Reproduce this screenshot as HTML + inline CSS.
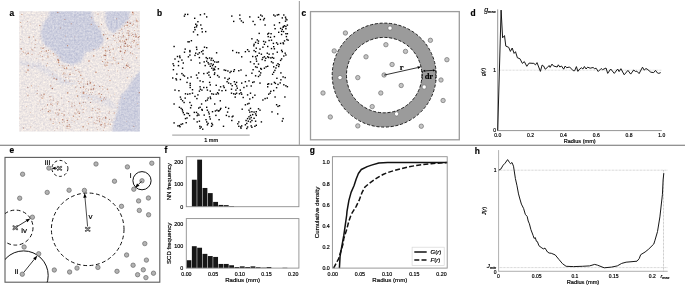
<!DOCTYPE html>
<html><head><meta charset="utf-8"><title>Figure</title>
<style>
html,body{margin:0;padding:0;background:#fff;}
body{width:685px;height:285px;overflow:hidden;}
svg{display:block;font-family:"Liberation Sans",sans-serif;}
text{stroke:#000;stroke-width:0.18px;}
</style></head><body>
<svg width="685" height="285" viewBox="0 0 685 285">
<rect width="685" height="285" fill="#fff"/>
<line x1="0" y1="145.3" x2="685" y2="145.3" stroke="#6e6e6e" stroke-width="1.1"/>
<line x1="299.4" y1="1" x2="299.4" y2="145.3" stroke="#a8a8a8" stroke-width="1.2"/>
<text x="9.5" y="16.2" font-size="8.4" text-anchor="start" font-weight="bold" font-style="normal" fill="#000">a</text>
<text x="157" y="16.2" font-size="8.4" text-anchor="start" font-weight="bold" font-style="normal" fill="#000">b</text>
<text x="301.6" y="16.2" font-size="8.4" text-anchor="start" font-weight="bold" font-style="normal" fill="#000">c</text>
<text x="470.6" y="16.2" font-size="8.4" text-anchor="start" font-weight="bold" font-style="normal" fill="#000">d</text>
<text x="9.6" y="153.2" font-size="8.4" text-anchor="start" font-weight="bold" font-style="normal" fill="#000">e</text>
<text x="164.6" y="153.2" font-size="8.4" text-anchor="start" font-weight="bold" font-style="normal" fill="#000">f</text>
<text x="309.8" y="153.2" font-size="8.4" text-anchor="start" font-weight="bold" font-style="normal" fill="#000">g</text>
<text x="474.8" y="153.6" font-size="8.4" text-anchor="start" font-weight="bold" font-style="normal" fill="#000">h</text>
<defs><clipPath id="ca"><rect x="19.2" y="11.2" width="120.7" height="120.3"/></clipPath><filter id="bl" x="-20%" y="-20%" width="140%" height="140%"><feGaussianBlur stdDeviation="1.3"/></filter><filter id="bl2" x="-20%" y="-20%" width="140%" height="140%"><feGaussianBlur stdDeviation="0.35"/></filter><filter id="grain" x="0" y="0" width="100%" height="100%" color-interpolation-filters="sRGB"><feTurbulence type="fractalNoise" baseFrequency="0.55" numOctaves="2" seed="11" result="n"/><feColorMatrix in="n" type="matrix" values="0.22 0 0 0 0.02  0.20 0 0 0 0.03  0.12 0 0 0 0.07  0 0 0 0 1" result="n2"/><feComposite in="SourceGraphic" in2="n2" operator="arithmetic" k1="0" k2="1" k3="1" k4="-0.13"/></filter></defs>
<g clip-path="url(#ca)"><g filter="url(#grain)">
<rect x="17.2" y="9.2" width="124.7" height="124.3" fill="#ede6e4"/>
<g filter="url(#bl)" fill="#cccede">
<polygon points="50.1,8.0 90.9,8.0 93.7,21.3 100.4,28.9 104.2,40.3 98.5,48.8 85.2,52.6 81.4,62.1 71.9,64.9 62.4,62.1 53.9,51.6 43.5,44.1 40.6,34.6 43.5,22.2 48.2,17.5"/>
<polygon points="106.1,8.0 130.7,8.0 128.9,19.4 121.3,27.0 113.7,33.6 108.0,28.9 105.1,19.4"/>
<polygon points="145.0,68.0 139.9,71.1 132.6,79.7 127.0,89.2 121.3,94.8 118.4,104.3 118.4,107.8 113.7,121.0 111.8,135.0 145.0,135.0"/>
</g>
<g filter="url(#bl)" fill="#dcdae2" opacity="0.7">
<polygon points="19.0,60.0 40.0,63.0 62.0,78.0 80.0,84.0 62.0,85.0 40.0,70.0 19.0,65.0"/>
<polygon points="80.0,93.0 110.0,99.0 118.0,110.0 100.0,103.0 80.0,97.0"/>
</g>
<g filter="url(#bl2)" opacity="0.72"><circle cx="26.2" cy="72.2" r="0.6" fill="#b8785c"/><circle cx="67.1" cy="128.6" r="0.4" fill="#9a4a30"/><circle cx="86.8" cy="93.2" r="0.4" fill="#9a4a30"/><circle cx="70.1" cy="126.9" r="0.5" fill="#9a4a30"/><circle cx="76.4" cy="91.1" r="0.5" fill="#c08a70"/><circle cx="105.7" cy="117.9" r="0.8" fill="#9a4a30"/><circle cx="39.5" cy="25.3" r="0.5" fill="#b06a4c"/><circle cx="101.6" cy="57.0" r="0.35" fill="#b06a4c"/><circle cx="37.5" cy="90.4" r="0.4" fill="#9a4a30"/><circle cx="134.1" cy="54.7" r="0.3" fill="#a8603f"/><circle cx="136.8" cy="20.9" r="0.8" fill="#b06a4c"/><circle cx="79.7" cy="103.1" r="0.6" fill="#b06a4c"/><circle cx="99.2" cy="109.3" r="0.4" fill="#a8603f"/><circle cx="44.9" cy="47.6" r="0.4" fill="#c08a70"/><circle cx="65.6" cy="73.4" r="0.35" fill="#a4553a"/><circle cx="31.8" cy="43.1" r="0.4" fill="#9a4a30"/><circle cx="100.8" cy="125.0" r="0.8" fill="#c08a70"/><circle cx="136.2" cy="42.7" r="0.5" fill="#c08a70"/><circle cx="56.0" cy="102.6" r="0.4" fill="#9a4a30"/><circle cx="78.9" cy="111.6" r="0.5" fill="#c08a70"/><circle cx="91.5" cy="94.5" r="0.4" fill="#b06a4c"/><circle cx="41.3" cy="51.5" r="0.5" fill="#a8603f"/><circle cx="105.0" cy="126.2" r="0.35" fill="#a4553a"/><circle cx="64.7" cy="65.5" r="0.3" fill="#c08a70"/><circle cx="127.6" cy="22.3" r="0.8" fill="#9a4a30"/><circle cx="74.8" cy="112.9" r="0.5" fill="#a4553a"/><circle cx="93.7" cy="88.5" r="0.4" fill="#9a4a30"/><circle cx="49.9" cy="100.6" r="0.4" fill="#a4553a"/><circle cx="79.3" cy="116.6" r="0.4" fill="#a4553a"/><circle cx="107.0" cy="61.3" r="0.35" fill="#9a4a30"/><circle cx="128.0" cy="46.1" r="0.6" fill="#b8785c"/><circle cx="132.1" cy="41.2" r="0.5" fill="#b06a4c"/><circle cx="72.0" cy="103.1" r="0.5" fill="#a8603f"/><circle cx="133.1" cy="34.3" r="0.3" fill="#a4553a"/><circle cx="57.4" cy="112.2" r="0.4" fill="#a8603f"/><circle cx="99.7" cy="122.5" r="0.3" fill="#c08a70"/><circle cx="56.8" cy="109.8" r="0.4" fill="#9a4a30"/><circle cx="36.9" cy="58.5" r="0.4" fill="#b8785c"/><circle cx="118.4" cy="63.2" r="0.8" fill="#b06a4c"/><circle cx="64.2" cy="121.8" r="0.5" fill="#c08a70"/><circle cx="117.2" cy="103.4" r="0.3" fill="#b8785c"/><circle cx="109.4" cy="119.3" r="0.5" fill="#9a4a30"/><circle cx="105.7" cy="49.3" r="0.3" fill="#c08a70"/><circle cx="133.1" cy="14.1" r="0.8" fill="#c08a70"/><circle cx="131.2" cy="33.2" r="0.5" fill="#c08a70"/><circle cx="104.9" cy="65.0" r="0.6" fill="#b8785c"/><circle cx="120.7" cy="46.5" r="0.5" fill="#9a4a30"/><circle cx="64.1" cy="115.4" r="0.5" fill="#c08a70"/><circle cx="133.3" cy="23.9" r="0.5" fill="#b06a4c"/><circle cx="23.7" cy="52.1" r="0.5" fill="#a4553a"/><circle cx="91.6" cy="89.6" r="0.3" fill="#9a4a30"/><circle cx="68.1" cy="124.5" r="0.4" fill="#b8785c"/><circle cx="63.2" cy="104.2" r="0.3" fill="#a8603f"/><circle cx="39.9" cy="53.1" r="0.4" fill="#a4553a"/><circle cx="135.9" cy="34.9" r="0.3" fill="#b8785c"/><circle cx="94.2" cy="85.2" r="0.8" fill="#b06a4c"/><circle cx="38.1" cy="54.4" r="0.4" fill="#a4553a"/><circle cx="98.0" cy="105.5" r="0.35" fill="#a8603f"/><circle cx="129.8" cy="31.1" r="0.4" fill="#a4553a"/><circle cx="47.9" cy="56.0" r="0.6" fill="#b06a4c"/><circle cx="102.3" cy="119.0" r="0.6" fill="#c08a70"/><circle cx="99.3" cy="48.8" r="0.3" fill="#b06a4c"/><circle cx="81.1" cy="118.9" r="0.4" fill="#a8603f"/><circle cx="98.0" cy="13.9" r="0.5" fill="#9a4a30"/><circle cx="32.0" cy="54.2" r="0.5" fill="#a8603f"/><circle cx="104.6" cy="65.4" r="0.4" fill="#c08a70"/><circle cx="113.6" cy="59.6" r="0.3" fill="#a4553a"/><circle cx="71.8" cy="106.1" r="0.5" fill="#9a4a30"/><circle cx="96.7" cy="127.3" r="0.3" fill="#b06a4c"/><circle cx="125.4" cy="50.7" r="0.8" fill="#b8785c"/><circle cx="103.3" cy="99.8" r="0.5" fill="#b06a4c"/><circle cx="133.2" cy="24.1" r="0.35" fill="#a4553a"/><circle cx="95.7" cy="110.5" r="0.5" fill="#b8785c"/><circle cx="105.6" cy="55.5" r="0.8" fill="#9a4a30"/><circle cx="71.9" cy="104.2" r="0.3" fill="#a8603f"/><circle cx="25.7" cy="53.0" r="0.4" fill="#b8785c"/><circle cx="132.5" cy="39.1" r="0.35" fill="#b8785c"/><circle cx="66.8" cy="118.3" r="0.3" fill="#9a4a30"/><circle cx="126.0" cy="39.8" r="0.5" fill="#c08a70"/><circle cx="97.3" cy="113.0" r="0.4" fill="#c08a70"/><circle cx="99.0" cy="116.2" r="0.5" fill="#a4553a"/><circle cx="133.6" cy="36.5" r="0.6" fill="#a8603f"/><circle cx="115.9" cy="58.4" r="0.4" fill="#a4553a"/><circle cx="62.0" cy="113.5" r="0.6" fill="#c08a70"/><circle cx="95.6" cy="13.0" r="0.35" fill="#c08a70"/><circle cx="122.3" cy="33.5" r="0.4" fill="#b06a4c"/><circle cx="99.9" cy="118.7" r="0.5" fill="#b06a4c"/><circle cx="76.3" cy="78.2" r="0.4" fill="#c08a70"/><circle cx="135.1" cy="20.3" r="0.3" fill="#a4553a"/><circle cx="77.7" cy="119.2" r="0.6" fill="#c08a70"/><circle cx="129.3" cy="45.4" r="0.5" fill="#a8603f"/><circle cx="124.6" cy="52.7" r="0.8" fill="#a4553a"/><circle cx="74.5" cy="102.9" r="0.4" fill="#a4553a"/><circle cx="41.5" cy="15.3" r="0.3" fill="#b8785c"/><circle cx="124.2" cy="26.7" r="0.4" fill="#b8785c"/><circle cx="107.7" cy="33.7" r="0.4" fill="#c08a70"/><circle cx="129.5" cy="17.5" r="0.3" fill="#a4553a"/><circle cx="124.2" cy="98.5" r="0.4" fill="#a8603f"/><circle cx="48.9" cy="57.8" r="0.4" fill="#b8785c"/><circle cx="101.8" cy="121.1" r="0.35" fill="#a8603f"/><circle cx="86.0" cy="107.1" r="0.4" fill="#9a4a30"/><circle cx="92.5" cy="92.7" r="0.4" fill="#9a4a30"/><circle cx="50.5" cy="111.4" r="0.4" fill="#b06a4c"/><circle cx="64.1" cy="67.0" r="0.5" fill="#a8603f"/><circle cx="87.5" cy="81.8" r="0.5" fill="#b8785c"/><circle cx="121.8" cy="55.8" r="0.4" fill="#b06a4c"/><circle cx="97.3" cy="129.7" r="0.4" fill="#9a4a30"/><circle cx="110.3" cy="124.2" r="0.5" fill="#a8603f"/><circle cx="90.6" cy="102.4" r="0.5" fill="#9a4a30"/><circle cx="39.5" cy="39.9" r="0.3" fill="#b8785c"/><circle cx="105.8" cy="34.7" r="0.4" fill="#a4553a"/><circle cx="76.8" cy="86.8" r="0.4" fill="#c08a70"/><circle cx="120.5" cy="51.4" r="0.8" fill="#a4553a"/><circle cx="57.6" cy="119.9" r="0.3" fill="#c08a70"/><circle cx="54.1" cy="119.0" r="0.5" fill="#b06a4c"/><circle cx="60.3" cy="28.1" r="0.5" fill="#b06a4c"/><circle cx="42.4" cy="48.3" r="0.6" fill="#c08a70"/><circle cx="87.2" cy="129.8" r="0.5" fill="#a8603f"/><circle cx="73.0" cy="73.2" r="0.4" fill="#9a4a30"/><circle cx="127.6" cy="46.3" r="0.8" fill="#b8785c"/><circle cx="103.6" cy="34.7" r="0.8" fill="#a8603f"/><circle cx="23.6" cy="128.0" r="0.5" fill="#9a4a30"/><circle cx="139.6" cy="65.8" r="0.3" fill="#a4553a"/><circle cx="20.8" cy="39.7" r="0.35" fill="#9a4a30"/><circle cx="65.9" cy="77.2" r="0.5" fill="#a8603f"/><circle cx="76.9" cy="109.7" r="0.5" fill="#b06a4c"/><circle cx="67.1" cy="122.4" r="0.4" fill="#9a4a30"/><circle cx="34.6" cy="116.0" r="0.35" fill="#b8785c"/><circle cx="121.8" cy="44.8" r="0.35" fill="#b8785c"/><circle cx="91.1" cy="89.2" r="0.8" fill="#b8785c"/><circle cx="83.2" cy="109.4" r="0.5" fill="#9a4a30"/><circle cx="81.0" cy="71.9" r="0.4" fill="#a4553a"/><circle cx="116.6" cy="18.7" r="0.5" fill="#b06a4c"/><circle cx="105.6" cy="53.8" r="0.5" fill="#c08a70"/><circle cx="61.3" cy="65.3" r="0.3" fill="#b06a4c"/><circle cx="72.3" cy="85.8" r="0.3" fill="#b06a4c"/><circle cx="133.8" cy="40.4" r="0.4" fill="#b8785c"/><circle cx="114.9" cy="40.5" r="0.5" fill="#b8785c"/><circle cx="46.6" cy="65.7" r="0.5" fill="#a8603f"/><circle cx="124.5" cy="26.0" r="0.5" fill="#c08a70"/><circle cx="35.2" cy="44.5" r="0.5" fill="#b8785c"/><circle cx="88.6" cy="123.8" r="0.5" fill="#a4553a"/><circle cx="80.6" cy="92.6" r="0.4" fill="#b8785c"/><circle cx="116.5" cy="42.6" r="0.4" fill="#a8603f"/><circle cx="77.5" cy="96.1" r="0.8" fill="#b06a4c"/><circle cx="132.2" cy="53.5" r="0.4" fill="#a8603f"/><circle cx="85.4" cy="102.7" r="0.4" fill="#a8603f"/><circle cx="44.1" cy="94.2" r="0.8" fill="#b06a4c"/><circle cx="54.1" cy="78.3" r="0.8" fill="#b8785c"/><circle cx="63.8" cy="111.2" r="0.3" fill="#a4553a"/><circle cx="78.9" cy="71.3" r="0.5" fill="#a8603f"/><circle cx="42.2" cy="98.2" r="0.6" fill="#b06a4c"/><circle cx="83.2" cy="79.1" r="0.35" fill="#b06a4c"/><circle cx="78.3" cy="77.8" r="0.35" fill="#c08a70"/><circle cx="81.1" cy="82.0" r="0.6" fill="#c08a70"/><circle cx="39.5" cy="100.9" r="0.3" fill="#9a4a30"/><circle cx="115.8" cy="33.5" r="0.5" fill="#c08a70"/><circle cx="100.0" cy="111.8" r="0.5" fill="#a8603f"/><circle cx="78.0" cy="69.4" r="0.3" fill="#a4553a"/><circle cx="66.6" cy="68.4" r="0.8" fill="#b8785c"/><circle cx="62.8" cy="74.7" r="0.4" fill="#a8603f"/><circle cx="107.0" cy="51.1" r="0.5" fill="#9a4a30"/><circle cx="80.6" cy="87.6" r="0.6" fill="#9a4a30"/><circle cx="127.7" cy="44.4" r="0.3" fill="#b06a4c"/><circle cx="88.7" cy="97.7" r="0.5" fill="#a8603f"/><circle cx="83.1" cy="112.3" r="0.5" fill="#b8785c"/><circle cx="123.0" cy="36.8" r="0.6" fill="#b8785c"/><circle cx="44.8" cy="106.2" r="0.3" fill="#a4553a"/><circle cx="58.6" cy="62.4" r="0.8" fill="#b06a4c"/><circle cx="35.7" cy="47.3" r="0.3" fill="#b8785c"/><circle cx="124.5" cy="41.2" r="0.8" fill="#b06a4c"/><circle cx="89.1" cy="117.4" r="0.5" fill="#a4553a"/><circle cx="114.8" cy="94.1" r="0.4" fill="#a8603f"/><circle cx="71.2" cy="23.8" r="0.5" fill="#a4553a"/><circle cx="125.2" cy="25.7" r="0.4" fill="#a8603f"/><circle cx="130.1" cy="53.2" r="0.4" fill="#c08a70"/><circle cx="27.9" cy="95.8" r="0.5" fill="#a4553a"/><circle cx="135.8" cy="34.8" r="0.5" fill="#9a4a30"/><circle cx="136.6" cy="57.8" r="0.6" fill="#b06a4c"/><circle cx="97.9" cy="120.7" r="0.5" fill="#b8785c"/><circle cx="63.5" cy="73.8" r="0.5" fill="#a8603f"/><circle cx="60.2" cy="57.1" r="0.4" fill="#a4553a"/><circle cx="48.4" cy="111.5" r="0.8" fill="#a4553a"/><circle cx="93.8" cy="55.9" r="0.8" fill="#b8785c"/><circle cx="65.0" cy="74.5" r="0.3" fill="#a4553a"/><circle cx="126.7" cy="64.1" r="0.3" fill="#c08a70"/><circle cx="130.9" cy="46.6" r="0.6" fill="#b8785c"/><circle cx="33.5" cy="37.8" r="0.3" fill="#a4553a"/><circle cx="79.2" cy="113.2" r="0.8" fill="#a4553a"/><circle cx="118.7" cy="35.2" r="0.3" fill="#a8603f"/><circle cx="102.6" cy="61.5" r="0.6" fill="#a4553a"/><circle cx="124.4" cy="28.7" r="0.3" fill="#b06a4c"/><circle cx="138.5" cy="44.2" r="0.5" fill="#b8785c"/><circle cx="122.6" cy="42.1" r="0.3" fill="#b06a4c"/><circle cx="78.2" cy="81.4" r="0.5" fill="#b06a4c"/><circle cx="117.5" cy="71.0" r="0.4" fill="#b8785c"/><circle cx="104.4" cy="64.4" r="0.3" fill="#c08a70"/><circle cx="104.5" cy="97.7" r="0.5" fill="#9a4a30"/><circle cx="98.2" cy="94.7" r="0.4" fill="#c08a70"/><circle cx="28.0" cy="70.1" r="0.8" fill="#a4553a"/><circle cx="43.4" cy="44.9" r="0.35" fill="#b06a4c"/><circle cx="121.2" cy="38.5" r="0.3" fill="#a8603f"/><circle cx="59.4" cy="65.3" r="0.5" fill="#b06a4c"/><circle cx="120.2" cy="47.7" r="0.35" fill="#b06a4c"/><circle cx="43.1" cy="59.8" r="0.4" fill="#b06a4c"/><circle cx="30.7" cy="23.9" r="0.4" fill="#c08a70"/><circle cx="102.9" cy="47.6" r="0.8" fill="#c08a70"/><circle cx="49.6" cy="112.1" r="0.4" fill="#a8603f"/><circle cx="101.6" cy="124.5" r="0.6" fill="#a4553a"/><circle cx="99.3" cy="120.0" r="0.5" fill="#a4553a"/><circle cx="125.2" cy="68.4" r="0.5" fill="#b8785c"/><circle cx="66.7" cy="67.3" r="0.5" fill="#a4553a"/><circle cx="68.4" cy="75.9" r="0.4" fill="#c08a70"/><circle cx="62.7" cy="119.8" r="0.8" fill="#a4553a"/><circle cx="115.0" cy="53.0" r="0.3" fill="#b06a4c"/><circle cx="94.1" cy="122.8" r="0.5" fill="#9a4a30"/><circle cx="113.2" cy="49.1" r="0.8" fill="#c08a70"/><circle cx="50.5" cy="104.0" r="0.5" fill="#9a4a30"/><circle cx="105.1" cy="123.1" r="0.4" fill="#c08a70"/><circle cx="128.0" cy="27.3" r="0.35" fill="#b8785c"/><circle cx="47.6" cy="63.2" r="0.5" fill="#c08a70"/><circle cx="92.0" cy="110.4" r="0.4" fill="#b06a4c"/><circle cx="90.4" cy="82.9" r="0.8" fill="#a4553a"/><circle cx="86.4" cy="109.9" r="0.3" fill="#b06a4c"/><circle cx="81.0" cy="82.0" r="0.3" fill="#9a4a30"/><circle cx="43.1" cy="95.9" r="0.5" fill="#b06a4c"/><circle cx="106.4" cy="97.8" r="0.4" fill="#b8785c"/><circle cx="76.7" cy="110.1" r="0.35" fill="#a8603f"/><circle cx="104.9" cy="124.9" r="0.6" fill="#c08a70"/><circle cx="107.1" cy="75.1" r="0.35" fill="#b8785c"/><circle cx="113.4" cy="35.7" r="0.35" fill="#9a4a30"/><circle cx="112.0" cy="120.0" r="0.4" fill="#9a4a30"/><circle cx="100.4" cy="97.1" r="0.8" fill="#c08a70"/><circle cx="115.8" cy="118.2" r="0.4" fill="#c08a70"/><circle cx="128.8" cy="35.3" r="0.8" fill="#a4553a"/><circle cx="89.0" cy="61.0" r="0.8" fill="#a4553a"/><circle cx="125.7" cy="22.8" r="0.4" fill="#a8603f"/><circle cx="126.6" cy="121.4" r="0.3" fill="#a8603f"/><circle cx="120.3" cy="36.3" r="0.4" fill="#c08a70"/><circle cx="137.3" cy="103.7" r="0.35" fill="#a4553a"/><circle cx="120.2" cy="97.4" r="0.4" fill="#b8785c"/><circle cx="114.3" cy="113.0" r="0.6" fill="#a4553a"/><circle cx="48.0" cy="52.4" r="0.4" fill="#a4553a"/><circle cx="95.4" cy="89.1" r="0.3" fill="#c08a70"/><circle cx="21.0" cy="54.7" r="0.35" fill="#c08a70"/><circle cx="52.2" cy="103.8" r="0.35" fill="#9a4a30"/><circle cx="128.4" cy="30.2" r="0.5" fill="#c08a70"/><circle cx="132.2" cy="54.0" r="0.4" fill="#b06a4c"/><circle cx="128.9" cy="31.1" r="0.3" fill="#b06a4c"/><circle cx="97.5" cy="117.9" r="0.5" fill="#b06a4c"/><circle cx="123.6" cy="36.7" r="0.5" fill="#b8785c"/><circle cx="128.2" cy="33.1" r="0.8" fill="#c08a70"/><circle cx="29.1" cy="37.3" r="0.8" fill="#b06a4c"/><circle cx="120.5" cy="47.8" r="0.4" fill="#a4553a"/><circle cx="67.7" cy="92.9" r="0.8" fill="#b06a4c"/><circle cx="108.8" cy="92.1" r="0.4" fill="#b06a4c"/><circle cx="58.0" cy="60.2" r="0.3" fill="#a8603f"/><circle cx="35.8" cy="40.1" r="0.6" fill="#b06a4c"/><circle cx="58.0" cy="101.8" r="0.6" fill="#b06a4c"/><circle cx="82.2" cy="78.4" r="0.5" fill="#a8603f"/><circle cx="126.6" cy="67.2" r="0.4" fill="#b8785c"/><circle cx="96.4" cy="116.9" r="0.4" fill="#b8785c"/><circle cx="93.5" cy="89.0" r="0.8" fill="#9a4a30"/><circle cx="104.3" cy="127.4" r="0.5" fill="#c08a70"/><circle cx="106.8" cy="44.0" r="0.3" fill="#b06a4c"/><circle cx="28.1" cy="53.2" r="0.8" fill="#9a4a30"/><circle cx="59.4" cy="122.7" r="0.5" fill="#a4553a"/><circle cx="21.2" cy="48.7" r="0.8" fill="#a4553a"/><circle cx="105.8" cy="65.8" r="0.4" fill="#b06a4c"/><circle cx="26.8" cy="93.5" r="0.35" fill="#c08a70"/><circle cx="112.2" cy="63.8" r="0.6" fill="#c08a70"/><circle cx="30.6" cy="127.1" r="0.5" fill="#c08a70"/><circle cx="105.6" cy="99.5" r="0.4" fill="#b8785c"/><circle cx="59.8" cy="109.9" r="0.4" fill="#9a4a30"/><circle cx="105.8" cy="62.8" r="0.5" fill="#a8603f"/><circle cx="114.4" cy="54.1" r="0.3" fill="#b06a4c"/><circle cx="127.8" cy="30.9" r="0.35" fill="#a8603f"/><circle cx="62.9" cy="122.4" r="0.3" fill="#a8603f"/><circle cx="118.4" cy="39.1" r="0.4" fill="#a8603f"/><circle cx="70.4" cy="72.7" r="0.3" fill="#b8785c"/><circle cx="47.3" cy="53.5" r="0.35" fill="#b8785c"/><circle cx="97.9" cy="101.0" r="0.4" fill="#c08a70"/><circle cx="90.4" cy="92.7" r="0.4" fill="#a8603f"/><circle cx="85.8" cy="89.5" r="0.4" fill="#a4553a"/><circle cx="52.4" cy="73.9" r="0.5" fill="#c08a70"/><circle cx="132.4" cy="25.2" r="0.5" fill="#a4553a"/><circle cx="59.3" cy="110.0" r="0.6" fill="#a4553a"/><circle cx="128.7" cy="24.1" r="0.35" fill="#b06a4c"/><circle cx="122.8" cy="57.6" r="0.4" fill="#a8603f"/><circle cx="34.4" cy="47.5" r="0.4" fill="#a4553a"/><circle cx="58.5" cy="60.4" r="0.8" fill="#a4553a"/><circle cx="40.9" cy="29.5" r="0.3" fill="#b8785c"/><circle cx="83.2" cy="93.1" r="0.8" fill="#a8603f"/><circle cx="57.4" cy="56.5" r="0.4" fill="#c08a70"/><circle cx="122.7" cy="70.0" r="0.35" fill="#b8785c"/><circle cx="107.4" cy="89.2" r="0.8" fill="#c08a70"/><circle cx="113.6" cy="35.9" r="0.6" fill="#a8603f"/><circle cx="102.8" cy="89.1" r="0.5" fill="#b8785c"/><circle cx="108.1" cy="124.0" r="0.6" fill="#b06a4c"/><circle cx="125.8" cy="37.1" r="0.35" fill="#c08a70"/><circle cx="97.1" cy="112.1" r="0.4" fill="#b06a4c"/><circle cx="128.6" cy="38.0" r="0.4" fill="#9a4a30"/><circle cx="136.0" cy="36.7" r="0.8" fill="#9a4a30"/><circle cx="101.5" cy="100.8" r="0.8" fill="#b8785c"/><circle cx="76.0" cy="70.5" r="0.5" fill="#a4553a"/><circle cx="136.6" cy="18.9" r="0.35" fill="#b06a4c"/><circle cx="21.9" cy="14.5" r="0.6" fill="#a8603f"/><circle cx="63.9" cy="76.6" r="0.4" fill="#b06a4c"/><circle cx="56.5" cy="79.4" r="0.8" fill="#b8785c"/><circle cx="71.0" cy="68.5" r="0.3" fill="#b8785c"/><circle cx="138.4" cy="39.9" r="0.4" fill="#b06a4c"/><circle cx="38.1" cy="86.4" r="0.3" fill="#9a4a30"/><circle cx="42.3" cy="59.9" r="0.4" fill="#b8785c"/><circle cx="53.9" cy="55.0" r="0.5" fill="#b06a4c"/><circle cx="27.5" cy="21.4" r="0.4" fill="#9a4a30"/><circle cx="130.2" cy="23.2" r="0.8" fill="#9a4a30"/><circle cx="32.8" cy="49.9" r="0.5" fill="#9a4a30"/><circle cx="119.1" cy="30.7" r="0.4" fill="#a4553a"/><circle cx="98.8" cy="26.7" r="0.6" fill="#c08a70"/><circle cx="64.5" cy="68.5" r="0.6" fill="#a8603f"/><circle cx="95.9" cy="94.6" r="0.3" fill="#9a4a30"/><circle cx="116.3" cy="38.8" r="0.35" fill="#c08a70"/><circle cx="57.1" cy="128.4" r="0.4" fill="#9a4a30"/><circle cx="122.6" cy="40.5" r="0.6" fill="#c08a70"/><circle cx="51.7" cy="104.6" r="0.3" fill="#a4553a"/><circle cx="134.6" cy="30.4" r="0.5" fill="#c08a70"/><circle cx="74.9" cy="36.8" r="0.35" fill="#a4553a"/><circle cx="74.2" cy="121.8" r="0.5" fill="#c08a70"/><circle cx="64.1" cy="114.8" r="0.6" fill="#9a4a30"/><circle cx="40.0" cy="96.0" r="0.5" fill="#c08a70"/><circle cx="57.9" cy="59.5" r="0.8" fill="#b06a4c"/><circle cx="124.2" cy="46.1" r="0.8" fill="#c08a70"/><circle cx="110.1" cy="55.0" r="0.4" fill="#a4553a"/><circle cx="123.3" cy="35.6" r="0.5" fill="#a8603f"/><circle cx="22.3" cy="51.7" r="0.35" fill="#a4553a"/><circle cx="72.3" cy="106.9" r="0.3" fill="#a4553a"/><circle cx="107.6" cy="38.6" r="0.8" fill="#a8603f"/><circle cx="91.7" cy="117.5" r="0.8" fill="#b8785c"/><circle cx="119.5" cy="41.0" r="0.6" fill="#a4553a"/><circle cx="63.6" cy="72.5" r="0.3" fill="#a8603f"/><circle cx="43.1" cy="98.1" r="0.35" fill="#9a4a30"/><circle cx="64.7" cy="80.8" r="0.6" fill="#a4553a"/><circle cx="120.7" cy="30.6" r="0.4" fill="#b8785c"/><circle cx="40.0" cy="52.9" r="0.35" fill="#c08a70"/><circle cx="117.3" cy="107.6" r="0.3" fill="#b06a4c"/><circle cx="139.4" cy="36.3" r="0.6" fill="#b8785c"/><circle cx="83.3" cy="102.3" r="0.6" fill="#b8785c"/><circle cx="127.7" cy="63.0" r="0.5" fill="#c08a70"/><circle cx="95.9" cy="123.5" r="0.6" fill="#c08a70"/><circle cx="127.2" cy="25.4" r="0.8" fill="#b8785c"/><circle cx="73.4" cy="116.3" r="0.8" fill="#b8785c"/><circle cx="111.3" cy="44.4" r="0.4" fill="#b8785c"/><circle cx="63.1" cy="107.3" r="0.3" fill="#b06a4c"/><circle cx="85.9" cy="83.9" r="0.5" fill="#b8785c"/><circle cx="72.4" cy="81.7" r="0.3" fill="#a8603f"/><circle cx="52.4" cy="88.5" r="0.8" fill="#9a4a30"/><circle cx="69.0" cy="118.6" r="0.4" fill="#b8785c"/><circle cx="97.4" cy="108.6" r="0.35" fill="#9a4a30"/><circle cx="123.4" cy="32.3" r="0.4" fill="#b8785c"/><circle cx="75.0" cy="97.0" r="0.35" fill="#b06a4c"/><circle cx="120.5" cy="40.2" r="0.4" fill="#9a4a30"/><circle cx="125.3" cy="43.4" r="0.8" fill="#9a4a30"/><circle cx="44.8" cy="51.7" r="0.4" fill="#b06a4c"/><circle cx="58.9" cy="113.3" r="0.5" fill="#b06a4c"/><circle cx="104.5" cy="123.2" r="0.5" fill="#b8785c"/><circle cx="110.9" cy="49.4" r="0.4" fill="#a4553a"/><circle cx="28.4" cy="65.6" r="0.8" fill="#c08a70"/><circle cx="68.9" cy="126.0" r="0.4" fill="#a4553a"/><circle cx="20.7" cy="22.5" r="0.6" fill="#b8785c"/><circle cx="89.9" cy="81.0" r="0.6" fill="#c08a70"/><circle cx="50.8" cy="85.9" r="0.6" fill="#a4553a"/><circle cx="26.4" cy="106.3" r="0.4" fill="#9a4a30"/><circle cx="47.9" cy="57.1" r="0.5" fill="#a8603f"/><circle cx="134.1" cy="40.9" r="0.6" fill="#9a4a30"/><circle cx="135.3" cy="46.0" r="0.5" fill="#b8785c"/><circle cx="109.4" cy="50.5" r="0.6" fill="#b06a4c"/><circle cx="131.5" cy="76.4" r="0.35" fill="#b8785c"/><circle cx="118.3" cy="37.3" r="0.5" fill="#b06a4c"/><circle cx="50.4" cy="119.3" r="0.8" fill="#c08a70"/><circle cx="137.2" cy="26.8" r="0.6" fill="#c08a70"/><circle cx="43.5" cy="48.0" r="0.5" fill="#a4553a"/><circle cx="108.6" cy="121.9" r="0.4" fill="#b8785c"/><circle cx="68.6" cy="65.3" r="0.5" fill="#b06a4c"/><circle cx="53.3" cy="100.1" r="0.5" fill="#b8785c"/><circle cx="123.3" cy="42.0" r="0.35" fill="#b06a4c"/><circle cx="79.8" cy="103.6" r="0.6" fill="#b06a4c"/><circle cx="64.4" cy="110.9" r="0.3" fill="#b8785c"/><circle cx="139.0" cy="48.5" r="0.5" fill="#a8603f"/><circle cx="99.1" cy="93.7" r="0.6" fill="#9a4a30"/><circle cx="99.0" cy="109.0" r="0.5" fill="#a4553a"/><circle cx="126.5" cy="39.6" r="0.8" fill="#a8603f"/><circle cx="40.1" cy="36.1" r="0.4" fill="#a8603f"/><circle cx="118.2" cy="47.5" r="0.5" fill="#c08a70"/><circle cx="58.4" cy="114.8" r="0.5" fill="#9a4a30"/><circle cx="91.1" cy="89.9" r="0.35" fill="#b06a4c"/><circle cx="55.9" cy="54.8" r="0.4" fill="#c08a70"/><circle cx="94.0" cy="49.6" r="0.6" fill="#c08a70"/><circle cx="106.0" cy="47.5" r="0.4" fill="#9a4a30"/><circle cx="75.9" cy="118.1" r="0.3" fill="#c08a70"/><circle cx="91.4" cy="98.9" r="0.5" fill="#b8785c"/><circle cx="133.8" cy="126.3" r="0.5" fill="#b06a4c"/><circle cx="137.8" cy="33.8" r="0.3" fill="#a4553a"/><circle cx="67.2" cy="126.4" r="0.8" fill="#b8785c"/><circle cx="68.8" cy="101.5" r="0.6" fill="#b8785c"/><circle cx="76.1" cy="108.9" r="0.3" fill="#b06a4c"/><circle cx="91.0" cy="109.2" r="0.3" fill="#b8785c"/><circle cx="130.7" cy="43.7" r="0.4" fill="#b8785c"/><circle cx="138.6" cy="37.1" r="0.5" fill="#b06a4c"/><circle cx="33.5" cy="36.5" r="0.5" fill="#c08a70"/><circle cx="37.1" cy="93.5" r="0.5" fill="#a8603f"/><circle cx="40.3" cy="25.6" r="0.3" fill="#b06a4c"/><circle cx="105.5" cy="66.4" r="0.3" fill="#b8785c"/><circle cx="41.1" cy="97.8" r="0.35" fill="#9a4a30"/><circle cx="132.2" cy="32.3" r="0.3" fill="#b8785c"/><circle cx="52.5" cy="105.3" r="0.5" fill="#c08a70"/><circle cx="72.1" cy="120.5" r="0.4" fill="#b8785c"/><circle cx="101.5" cy="57.1" r="0.4" fill="#b06a4c"/><circle cx="74.8" cy="74.6" r="0.4" fill="#c08a70"/><circle cx="103.5" cy="117.7" r="0.35" fill="#a8603f"/><circle cx="110.1" cy="52.3" r="0.5" fill="#9a4a30"/><circle cx="47.5" cy="104.9" r="0.6" fill="#9a4a30"/><circle cx="88.5" cy="89.9" r="0.5" fill="#b06a4c"/><circle cx="127.3" cy="77.7" r="0.5" fill="#a8603f"/><circle cx="69.8" cy="81.0" r="0.5" fill="#a4553a"/><circle cx="21.4" cy="49.5" r="0.3" fill="#b06a4c"/><circle cx="115.0" cy="60.3" r="0.5" fill="#9a4a30"/><circle cx="41.0" cy="47.7" r="0.5" fill="#a8603f"/><circle cx="83.1" cy="84.1" r="0.35" fill="#a8603f"/><circle cx="87.7" cy="84.5" r="0.5" fill="#9a4a30"/><circle cx="133.6" cy="42.5" r="0.5" fill="#c08a70"/><circle cx="31.4" cy="49.0" r="0.6" fill="#c08a70"/><circle cx="115.9" cy="47.9" r="0.4" fill="#c08a70"/><circle cx="68.7" cy="78.2" r="0.4" fill="#a4553a"/><circle cx="101.3" cy="125.9" r="0.3" fill="#b06a4c"/><circle cx="83.1" cy="126.7" r="0.8" fill="#a8603f"/><circle cx="121.8" cy="29.1" r="0.6" fill="#9a4a30"/><circle cx="129.7" cy="67.6" r="0.6" fill="#9a4a30"/><circle cx="138.2" cy="37.3" r="0.6" fill="#a4553a"/><circle cx="67.6" cy="45.7" r="0.6" fill="#9a4a30"/><circle cx="122.6" cy="59.5" r="0.5" fill="#b06a4c"/><circle cx="96.0" cy="72.2" r="0.8" fill="#b06a4c"/><circle cx="50.3" cy="51.1" r="0.35" fill="#a8603f"/><circle cx="125.1" cy="42.1" r="0.3" fill="#9a4a30"/><circle cx="69.5" cy="124.8" r="0.5" fill="#a4553a"/><circle cx="43.2" cy="114.5" r="0.3" fill="#b06a4c"/><circle cx="68.5" cy="113.1" r="0.4" fill="#a4553a"/><circle cx="83.8" cy="92.9" r="0.8" fill="#a4553a"/><circle cx="69.0" cy="128.7" r="0.4" fill="#a8603f"/><circle cx="127.5" cy="30.4" r="0.4" fill="#b06a4c"/><circle cx="119.9" cy="51.0" r="0.35" fill="#b8785c"/><circle cx="125.4" cy="67.6" r="0.3" fill="#a8603f"/><circle cx="69.1" cy="126.7" r="0.4" fill="#a8603f"/><circle cx="131.7" cy="35.5" r="0.4" fill="#9a4a30"/><circle cx="109.0" cy="112.9" r="0.5" fill="#a4553a"/><circle cx="92.8" cy="108.5" r="0.6" fill="#a8603f"/><circle cx="123.5" cy="67.5" r="0.5" fill="#a4553a"/><circle cx="122.6" cy="25.7" r="0.3" fill="#c08a70"/><circle cx="46.0" cy="90.4" r="0.3" fill="#b06a4c"/><circle cx="65.3" cy="35.9" r="0.5" fill="#c08a70"/><circle cx="48.6" cy="50.2" r="0.5" fill="#9a4a30"/><circle cx="108.3" cy="70.5" r="0.4" fill="#a4553a"/><circle cx="127.9" cy="66.2" r="0.8" fill="#b06a4c"/><circle cx="64.8" cy="19.5" r="0.5" fill="#a4553a"/><circle cx="126.2" cy="25.1" r="0.35" fill="#b06a4c"/><circle cx="137.2" cy="44.7" r="0.6" fill="#a8603f"/><circle cx="103.2" cy="130.5" r="0.4" fill="#b06a4c"/><circle cx="87.5" cy="83.5" r="0.5" fill="#b06a4c"/><circle cx="67.3" cy="120.5" r="0.8" fill="#b06a4c"/><circle cx="55.3" cy="70.1" r="0.4" fill="#b8785c"/><circle cx="53.2" cy="53.5" r="0.6" fill="#b8785c"/><circle cx="92.2" cy="109.9" r="0.4" fill="#9a4a30"/><circle cx="46.3" cy="51.0" r="0.8" fill="#a8603f"/><circle cx="91.0" cy="110.8" r="0.3" fill="#c08a70"/><circle cx="137.6" cy="25.1" r="0.35" fill="#b8785c"/><circle cx="129.3" cy="26.4" r="0.4" fill="#a8603f"/><circle cx="79.2" cy="83.6" r="0.5" fill="#b8785c"/><circle cx="122.1" cy="41.3" r="0.4" fill="#c08a70"/><circle cx="74.7" cy="67.7" r="0.5" fill="#9a4a30"/><circle cx="53.6" cy="123.2" r="0.5" fill="#b8785c"/><circle cx="126.5" cy="65.4" r="0.8" fill="#9a4a30"/><circle cx="81.7" cy="105.7" r="0.5" fill="#b8785c"/><circle cx="66.1" cy="128.1" r="0.3" fill="#a8603f"/><circle cx="109.3" cy="111.8" r="0.5" fill="#c08a70"/><circle cx="134.6" cy="40.5" r="0.4" fill="#b06a4c"/><circle cx="119.2" cy="33.0" r="0.6" fill="#a8603f"/><circle cx="75.6" cy="87.0" r="0.5" fill="#b06a4c"/><circle cx="80.8" cy="75.3" r="0.8" fill="#b06a4c"/><circle cx="27.8" cy="87.2" r="0.5" fill="#9a4a30"/><circle cx="74.7" cy="105.8" r="0.5" fill="#a4553a"/><circle cx="21.3" cy="53.5" r="0.3" fill="#b8785c"/><circle cx="31.5" cy="85.8" r="0.6" fill="#b8785c"/><circle cx="121.8" cy="37.2" r="0.35" fill="#a4553a"/><circle cx="87.2" cy="121.7" r="0.4" fill="#b06a4c"/><circle cx="51.4" cy="104.1" r="0.35" fill="#a4553a"/><circle cx="41.3" cy="94.9" r="0.5" fill="#9a4a30"/><circle cx="120.6" cy="41.8" r="0.5" fill="#a8603f"/><circle cx="52.5" cy="123.3" r="0.4" fill="#a4553a"/><circle cx="101.5" cy="94.5" r="0.6" fill="#9a4a30"/><circle cx="127.3" cy="50.5" r="0.35" fill="#b8785c"/><circle cx="54.3" cy="130.8" r="0.3" fill="#b8785c"/><circle cx="83.5" cy="87.0" r="0.8" fill="#a8603f"/><circle cx="115.6" cy="63.2" r="0.4" fill="#c08a70"/><circle cx="61.6" cy="98.0" r="0.5" fill="#b06a4c"/><circle cx="131.1" cy="47.3" r="0.5" fill="#a8603f"/><circle cx="128.8" cy="39.3" r="0.4" fill="#b8785c"/><circle cx="133.4" cy="56.1" r="0.35" fill="#b8785c"/><circle cx="64.1" cy="72.9" r="0.4" fill="#b06a4c"/><circle cx="42.4" cy="56.3" r="0.5" fill="#a8603f"/><circle cx="38.0" cy="103.8" r="0.4" fill="#b8785c"/><circle cx="64.6" cy="72.9" r="0.3" fill="#b06a4c"/><circle cx="133.4" cy="21.2" r="0.35" fill="#a8603f"/><circle cx="105.1" cy="125.5" r="0.3" fill="#b8785c"/><circle cx="63.0" cy="67.4" r="0.4" fill="#b8785c"/><circle cx="106.9" cy="65.2" r="0.8" fill="#b8785c"/><circle cx="62.2" cy="122.6" r="0.4" fill="#a4553a"/><circle cx="99.5" cy="121.6" r="0.5" fill="#b06a4c"/><circle cx="128.4" cy="64.7" r="0.35" fill="#a4553a"/><circle cx="126.8" cy="33.0" r="0.4" fill="#b8785c"/><circle cx="83.2" cy="91.4" r="0.4" fill="#a4553a"/><circle cx="63.5" cy="125.7" r="0.4" fill="#b06a4c"/><circle cx="28.1" cy="95.0" r="0.4" fill="#9a4a30"/><circle cx="105.5" cy="50.8" r="0.8" fill="#a8603f"/><circle cx="51.7" cy="77.8" r="0.35" fill="#c08a70"/><circle cx="79.4" cy="72.3" r="0.5" fill="#b8785c"/><circle cx="136.2" cy="35.9" r="0.35" fill="#9a4a30"/><circle cx="50.0" cy="110.3" r="0.6" fill="#b06a4c"/><circle cx="101.4" cy="24.5" r="0.5" fill="#b8785c"/><circle cx="89.3" cy="94.3" r="0.4" fill="#9a4a30"/><circle cx="116.4" cy="64.0" r="0.35" fill="#b06a4c"/><circle cx="129.7" cy="20.8" r="0.35" fill="#b8785c"/><circle cx="110.0" cy="80.5" r="0.6" fill="#a8603f"/><circle cx="56.6" cy="61.9" r="0.35" fill="#b06a4c"/><circle cx="102.1" cy="122.6" r="0.35" fill="#9a4a30"/><circle cx="126.7" cy="45.1" r="0.4" fill="#c08a70"/><circle cx="34.1" cy="50.9" r="0.35" fill="#c08a70"/><circle cx="61.9" cy="70.3" r="0.4" fill="#c08a70"/><circle cx="57.4" cy="103.9" r="0.6" fill="#a8603f"/><circle cx="40.4" cy="55.6" r="0.4" fill="#9a4a30"/><circle cx="125.2" cy="46.5" r="0.6" fill="#b06a4c"/><circle cx="19.4" cy="117.9" r="0.4" fill="#a4553a"/><circle cx="138.1" cy="30.2" r="0.35" fill="#a4553a"/><circle cx="55.6" cy="112.9" r="0.5" fill="#9a4a30"/><circle cx="62.9" cy="65.7" r="0.5" fill="#a8603f"/><circle cx="135.5" cy="33.8" r="0.4" fill="#9a4a30"/><circle cx="115.5" cy="37.1" r="0.4" fill="#a8603f"/><circle cx="113.5" cy="57.8" r="0.8" fill="#c08a70"/><circle cx="30.4" cy="112.7" r="0.4" fill="#b8785c"/><circle cx="121.3" cy="47.8" r="0.4" fill="#b06a4c"/><circle cx="89.3" cy="83.1" r="0.35" fill="#9a4a30"/><circle cx="96.5" cy="120.6" r="0.3" fill="#a4553a"/><circle cx="53.2" cy="98.2" r="0.35" fill="#a8603f"/><circle cx="136.4" cy="19.3" r="0.3" fill="#a4553a"/><circle cx="57.8" cy="12.4" r="0.6" fill="#a8603f"/><circle cx="50.8" cy="99.7" r="0.5" fill="#b8785c"/><circle cx="35.0" cy="66.4" r="0.4" fill="#b8785c"/><circle cx="118.2" cy="42.2" r="0.4" fill="#c08a70"/><circle cx="138.0" cy="21.8" r="0.5" fill="#a4553a"/><circle cx="130.5" cy="52.8" r="0.5" fill="#a4553a"/><circle cx="84.1" cy="96.4" r="0.4" fill="#c08a70"/><circle cx="26.5" cy="54.2" r="0.5" fill="#b8785c"/><circle cx="49.9" cy="96.7" r="0.5" fill="#a4553a"/><circle cx="21.3" cy="26.8" r="0.5" fill="#a8603f"/><circle cx="103.3" cy="98.2" r="0.4" fill="#c08a70"/><circle cx="77.6" cy="112.1" r="0.5" fill="#b8785c"/><circle cx="90.1" cy="66.4" r="0.4" fill="#c08a70"/><circle cx="61.6" cy="113.5" r="0.3" fill="#b8785c"/><circle cx="102.7" cy="86.6" r="0.5" fill="#b8785c"/><circle cx="131.6" cy="45.2" r="0.3" fill="#9a4a30"/><circle cx="139.3" cy="92.7" r="0.6" fill="#9a4a30"/><circle cx="53.2" cy="121.5" r="0.3" fill="#a4553a"/><circle cx="108.5" cy="46.7" r="0.5" fill="#9a4a30"/><circle cx="46.0" cy="108.5" r="0.4" fill="#b06a4c"/><circle cx="75.8" cy="114.1" r="0.6" fill="#c08a70"/><circle cx="110.1" cy="61.9" r="0.4" fill="#c08a70"/><circle cx="71.0" cy="69.7" r="0.4" fill="#b06a4c"/><circle cx="86.7" cy="88.5" r="0.4" fill="#b8785c"/><circle cx="110.6" cy="95.9" r="0.3" fill="#a8603f"/><circle cx="40.4" cy="110.4" r="0.4" fill="#b8785c"/><circle cx="121.1" cy="48.6" r="0.3" fill="#a4553a"/><circle cx="105.3" cy="123.3" r="0.3" fill="#c08a70"/><circle cx="91.2" cy="86.9" r="0.4" fill="#a8603f"/><circle cx="121.3" cy="59.0" r="0.35" fill="#b8785c"/><circle cx="107.8" cy="62.7" r="0.6" fill="#a8603f"/><circle cx="57.2" cy="114.9" r="0.5" fill="#b8785c"/><circle cx="109.7" cy="76.8" r="0.4" fill="#a4553a"/><circle cx="104.2" cy="55.2" r="0.8" fill="#b06a4c"/><circle cx="105.3" cy="59.7" r="0.6" fill="#a4553a"/><circle cx="104.5" cy="55.4" r="0.35" fill="#a8603f"/><circle cx="50.8" cy="120.8" r="0.4" fill="#b06a4c"/><circle cx="91.2" cy="24.3" r="0.6" fill="#a8603f"/><circle cx="105.4" cy="116.6" r="0.3" fill="#9a4a30"/><circle cx="132.8" cy="34.5" r="0.6" fill="#a4553a"/><circle cx="91.6" cy="17.7" r="0.5" fill="#b06a4c"/><circle cx="53.6" cy="53.9" r="0.4" fill="#b8785c"/><circle cx="51.0" cy="96.4" r="0.4" fill="#9a4a30"/><circle cx="42.7" cy="108.9" r="0.5" fill="#a4553a"/><circle cx="70.0" cy="74.4" r="0.8" fill="#b8785c"/><circle cx="99.7" cy="86.5" r="0.6" fill="#a4553a"/><circle cx="132.7" cy="12.4" r="0.8" fill="#9a4a30"/><circle cx="50.3" cy="53.9" r="0.35" fill="#b8785c"/></g>
</g></g>
<g fill="#000"><rect x="184.50" y="13.70" width="1.4" height="1.4"/><rect x="183.70" y="15.40" width="1.4" height="1.4"/><rect x="187.00" y="13.70" width="1.4" height="1.4"/><rect x="194.00" y="17.60" width="1.4" height="1.4"/><rect x="199.70" y="14.10" width="1.4" height="1.4"/><rect x="203.80" y="13.20" width="1.4" height="1.4"/><rect x="206.00" y="16.20" width="1.4" height="1.4"/><rect x="197.20" y="21.00" width="1.4" height="1.4"/><rect x="195.00" y="23.50" width="1.4" height="1.4"/><rect x="196.20" y="24.60" width="1.4" height="1.4"/><rect x="200.10" y="24.30" width="1.4" height="1.4"/><rect x="194.00" y="26.80" width="1.4" height="1.4"/><rect x="195.80" y="26.10" width="1.4" height="1.4"/><rect x="201.20" y="28.00" width="1.4" height="1.4"/><rect x="194.30" y="29.00" width="1.4" height="1.4"/><rect x="192.80" y="31.20" width="1.4" height="1.4"/><rect x="201.60" y="31.20" width="1.4" height="1.4"/><rect x="205.00" y="30.90" width="1.4" height="1.4"/><rect x="196.90" y="34.10" width="1.4" height="1.4"/><rect x="187.30" y="41.10" width="1.4" height="1.4"/><rect x="188.50" y="41.10" width="1.4" height="1.4"/><rect x="190.70" y="40.00" width="1.4" height="1.4"/><rect x="173.40" y="45.80" width="1.4" height="1.4"/><rect x="184.50" y="48.40" width="1.4" height="1.4"/><rect x="195.80" y="46.50" width="1.4" height="1.4"/><rect x="196.10" y="48.70" width="1.4" height="1.4"/><rect x="203.80" y="46.50" width="1.4" height="1.4"/><rect x="206.00" y="47.00" width="1.4" height="1.4"/><rect x="189.20" y="49.90" width="1.4" height="1.4"/><rect x="202.30" y="49.90" width="1.4" height="1.4"/><rect x="231.10" y="15.40" width="1.4" height="1.4"/><rect x="239.10" y="14.40" width="1.4" height="1.4"/><rect x="239.30" y="18.10" width="1.4" height="1.4"/><rect x="233.00" y="20.70" width="1.4" height="1.4"/><rect x="240.70" y="20.20" width="1.4" height="1.4"/><rect x="242.50" y="21.70" width="1.4" height="1.4"/><rect x="249.10" y="16.20" width="1.4" height="1.4"/><rect x="252.40" y="20.70" width="1.4" height="1.4"/><rect x="254.20" y="23.90" width="1.4" height="1.4"/><rect x="257.80" y="16.60" width="1.4" height="1.4"/><rect x="260.00" y="14.40" width="1.4" height="1.4"/><rect x="261.50" y="15.40" width="1.4" height="1.4"/><rect x="259.70" y="18.80" width="1.4" height="1.4"/><rect x="262.90" y="19.20" width="1.4" height="1.4"/><rect x="263.70" y="17.80" width="1.4" height="1.4"/><rect x="264.40" y="24.30" width="1.4" height="1.4"/><rect x="258.50" y="32.70" width="1.4" height="1.4"/><rect x="267.00" y="33.40" width="1.4" height="1.4"/><rect x="251.20" y="38.10" width="1.4" height="1.4"/><rect x="256.60" y="39.20" width="1.4" height="1.4"/><rect x="257.80" y="40.40" width="1.4" height="1.4"/><rect x="254.90" y="41.70" width="1.4" height="1.4"/><rect x="253.40" y="43.60" width="1.4" height="1.4"/><rect x="253.10" y="45.10" width="1.4" height="1.4"/><rect x="257.50" y="42.60" width="1.4" height="1.4"/><rect x="262.90" y="40.70" width="1.4" height="1.4"/><rect x="264.80" y="41.40" width="1.4" height="1.4"/><rect x="263.70" y="43.60" width="1.4" height="1.4"/><rect x="255.60" y="47.50" width="1.4" height="1.4"/><rect x="259.30" y="48.40" width="1.4" height="1.4"/><rect x="262.20" y="46.50" width="1.4" height="1.4"/><rect x="267.00" y="45.80" width="1.4" height="1.4"/><rect x="246.90" y="49.00" width="1.4" height="1.4"/><rect x="232.00" y="49.90" width="1.4" height="1.4"/><rect x="253.40" y="49.90" width="1.4" height="1.4"/><rect x="183.80" y="51.50" width="1.4" height="1.4"/><rect x="189.20" y="51.00" width="1.4" height="1.4"/><rect x="195.00" y="52.50" width="1.4" height="1.4"/><rect x="194.30" y="54.70" width="1.4" height="1.4"/><rect x="197.20" y="53.50" width="1.4" height="1.4"/><rect x="198.70" y="52.10" width="1.4" height="1.4"/><rect x="200.90" y="51.00" width="1.4" height="1.4"/><rect x="202.30" y="53.20" width="1.4" height="1.4"/><rect x="198.70" y="56.90" width="1.4" height="1.4"/><rect x="215.90" y="52.10" width="1.4" height="1.4"/><rect x="189.20" y="54.40" width="1.4" height="1.4"/><rect x="187.70" y="56.10" width="1.4" height="1.4"/><rect x="190.40" y="59.40" width="1.4" height="1.4"/><rect x="176.80" y="55.80" width="1.4" height="1.4"/><rect x="179.00" y="55.40" width="1.4" height="1.4"/><rect x="179.30" y="56.90" width="1.4" height="1.4"/><rect x="174.30" y="58.30" width="1.4" height="1.4"/><rect x="181.20" y="59.40" width="1.4" height="1.4"/><rect x="177.80" y="60.80" width="1.4" height="1.4"/><rect x="182.60" y="62.30" width="1.4" height="1.4"/><rect x="172.40" y="63.10" width="1.4" height="1.4"/><rect x="173.10" y="64.90" width="1.4" height="1.4"/><rect x="177.80" y="64.90" width="1.4" height="1.4"/><rect x="181.90" y="67.50" width="1.4" height="1.4"/><rect x="172.70" y="69.00" width="1.4" height="1.4"/><rect x="176.10" y="73.40" width="1.4" height="1.4"/><rect x="181.20" y="72.90" width="1.4" height="1.4"/><rect x="182.60" y="74.40" width="1.4" height="1.4"/><rect x="183.80" y="75.40" width="1.4" height="1.4"/><rect x="172.00" y="77.30" width="1.4" height="1.4"/><rect x="175.30" y="78.00" width="1.4" height="1.4"/><rect x="175.80" y="79.20" width="1.4" height="1.4"/><rect x="179.70" y="78.80" width="1.4" height="1.4"/><rect x="187.00" y="77.30" width="1.4" height="1.4"/><rect x="190.40" y="76.30" width="1.4" height="1.4"/><rect x="186.30" y="81.70" width="1.4" height="1.4"/><rect x="189.50" y="82.70" width="1.4" height="1.4"/><rect x="189.50" y="84.60" width="1.4" height="1.4"/><rect x="189.50" y="86.80" width="1.4" height="1.4"/><rect x="191.80" y="89.00" width="1.4" height="1.4"/><rect x="174.30" y="89.40" width="1.4" height="1.4"/><rect x="178.20" y="90.00" width="1.4" height="1.4"/><rect x="205.50" y="56.90" width="1.4" height="1.4"/><rect x="206.70" y="57.90" width="1.4" height="1.4"/><rect x="208.90" y="57.30" width="1.4" height="1.4"/><rect x="211.10" y="57.60" width="1.4" height="1.4"/><rect x="210.40" y="59.40" width="1.4" height="1.4"/><rect x="212.60" y="59.80" width="1.4" height="1.4"/><rect x="206.00" y="60.50" width="1.4" height="1.4"/><rect x="207.40" y="62.00" width="1.4" height="1.4"/><rect x="203.50" y="61.20" width="1.4" height="1.4"/><rect x="199.10" y="62.30" width="1.4" height="1.4"/><rect x="214.00" y="61.20" width="1.4" height="1.4"/><rect x="216.20" y="61.50" width="1.4" height="1.4"/><rect x="217.70" y="61.20" width="1.4" height="1.4"/><rect x="208.20" y="63.40" width="1.4" height="1.4"/><rect x="210.40" y="63.10" width="1.4" height="1.4"/><rect x="212.60" y="63.70" width="1.4" height="1.4"/><rect x="204.50" y="64.90" width="1.4" height="1.4"/><rect x="209.60" y="65.60" width="1.4" height="1.4"/><rect x="211.80" y="64.90" width="1.4" height="1.4"/><rect x="214.70" y="66.10" width="1.4" height="1.4"/><rect x="211.10" y="67.50" width="1.4" height="1.4"/><rect x="213.30" y="67.80" width="1.4" height="1.4"/><rect x="214.00" y="69.00" width="1.4" height="1.4"/><rect x="217.70" y="68.10" width="1.4" height="1.4"/><rect x="212.60" y="69.30" width="1.4" height="1.4"/><rect x="208.20" y="71.50" width="1.4" height="1.4"/><rect x="206.70" y="72.50" width="1.4" height="1.4"/><rect x="203.10" y="72.90" width="1.4" height="1.4"/><rect x="198.00" y="72.20" width="1.4" height="1.4"/><rect x="195.80" y="74.40" width="1.4" height="1.4"/><rect x="196.80" y="77.30" width="1.4" height="1.4"/><rect x="199.40" y="80.20" width="1.4" height="1.4"/><rect x="202.30" y="81.00" width="1.4" height="1.4"/><rect x="208.20" y="74.40" width="1.4" height="1.4"/><rect x="209.60" y="76.60" width="1.4" height="1.4"/><rect x="214.00" y="72.20" width="1.4" height="1.4"/><rect x="213.70" y="73.70" width="1.4" height="1.4"/><rect x="216.90" y="74.80" width="1.4" height="1.4"/><rect x="218.40" y="76.30" width="1.4" height="1.4"/><rect x="208.90" y="81.70" width="1.4" height="1.4"/><rect x="209.60" y="84.20" width="1.4" height="1.4"/><rect x="215.50" y="84.60" width="1.4" height="1.4"/><rect x="206.00" y="86.80" width="1.4" height="1.4"/><rect x="203.10" y="86.80" width="1.4" height="1.4"/><rect x="199.40" y="86.10" width="1.4" height="1.4"/><rect x="199.70" y="88.50" width="1.4" height="1.4"/><rect x="201.20" y="89.40" width="1.4" height="1.4"/><rect x="206.70" y="89.40" width="1.4" height="1.4"/><rect x="209.60" y="90.40" width="1.4" height="1.4"/><rect x="198.70" y="90.40" width="1.4" height="1.4"/><rect x="223.50" y="69.30" width="1.4" height="1.4"/><rect x="225.00" y="69.70" width="1.4" height="1.4"/><rect x="227.20" y="70.30" width="1.4" height="1.4"/><rect x="229.30" y="71.80" width="1.4" height="1.4"/><rect x="230.40" y="70.70" width="1.4" height="1.4"/><rect x="233.00" y="70.70" width="1.4" height="1.4"/><rect x="233.70" y="69.00" width="1.4" height="1.4"/><rect x="238.10" y="70.00" width="1.4" height="1.4"/><rect x="240.30" y="69.30" width="1.4" height="1.4"/><rect x="224.20" y="77.30" width="1.4" height="1.4"/><rect x="227.20" y="78.80" width="1.4" height="1.4"/><rect x="228.60" y="77.70" width="1.4" height="1.4"/><rect x="226.40" y="81.00" width="1.4" height="1.4"/><rect x="227.90" y="82.40" width="1.4" height="1.4"/><rect x="230.10" y="83.10" width="1.4" height="1.4"/><rect x="231.50" y="85.00" width="1.4" height="1.4"/><rect x="233.70" y="81.00" width="1.4" height="1.4"/><rect x="235.90" y="81.70" width="1.4" height="1.4"/><rect x="234.70" y="83.60" width="1.4" height="1.4"/><rect x="222.80" y="85.30" width="1.4" height="1.4"/><rect x="219.90" y="86.10" width="1.4" height="1.4"/><rect x="223.50" y="86.80" width="1.4" height="1.4"/><rect x="218.40" y="89.40" width="1.4" height="1.4"/><rect x="221.30" y="90.00" width="1.4" height="1.4"/><rect x="225.00" y="89.70" width="1.4" height="1.4"/><rect x="230.80" y="88.50" width="1.4" height="1.4"/><rect x="235.90" y="85.30" width="1.4" height="1.4"/><rect x="236.60" y="87.50" width="1.4" height="1.4"/><rect x="235.20" y="89.40" width="1.4" height="1.4"/><rect x="239.60" y="89.40" width="1.4" height="1.4"/><rect x="243.20" y="86.80" width="1.4" height="1.4"/><rect x="241.00" y="82.40" width="1.4" height="1.4"/><rect x="244.70" y="81.00" width="1.4" height="1.4"/><rect x="246.10" y="85.30" width="1.4" height="1.4"/><rect x="248.30" y="80.20" width="1.4" height="1.4"/><rect x="250.50" y="85.30" width="1.4" height="1.4"/><rect x="252.00" y="81.70" width="1.4" height="1.4"/><rect x="253.40" y="81.20" width="1.4" height="1.4"/><rect x="259.30" y="82.40" width="1.4" height="1.4"/><rect x="245.40" y="74.80" width="1.4" height="1.4"/><rect x="251.20" y="72.50" width="1.4" height="1.4"/><rect x="254.90" y="75.10" width="1.4" height="1.4"/><rect x="257.80" y="75.80" width="1.4" height="1.4"/><rect x="259.30" y="74.40" width="1.4" height="1.4"/><rect x="260.00" y="72.20" width="1.4" height="1.4"/><rect x="258.50" y="70.70" width="1.4" height="1.4"/><rect x="260.70" y="68.50" width="1.4" height="1.4"/><rect x="256.40" y="66.70" width="1.4" height="1.4"/><rect x="252.40" y="69.00" width="1.4" height="1.4"/><rect x="254.90" y="66.10" width="1.4" height="1.4"/><rect x="253.40" y="63.10" width="1.4" height="1.4"/><rect x="249.80" y="61.20" width="1.4" height="1.4"/><rect x="255.90" y="60.50" width="1.4" height="1.4"/><rect x="255.60" y="58.30" width="1.4" height="1.4"/><rect x="257.80" y="63.40" width="1.4" height="1.4"/><rect x="260.00" y="67.80" width="1.4" height="1.4"/><rect x="263.70" y="67.50" width="1.4" height="1.4"/><rect x="265.40" y="66.10" width="1.4" height="1.4"/><rect x="267.00" y="65.60" width="1.4" height="1.4"/><rect x="252.00" y="55.80" width="1.4" height="1.4"/><rect x="254.90" y="56.10" width="1.4" height="1.4"/><rect x="256.60" y="55.00" width="1.4" height="1.4"/><rect x="241.00" y="56.10" width="1.4" height="1.4"/><rect x="235.90" y="51.80" width="1.4" height="1.4"/><rect x="238.10" y="52.10" width="1.4" height="1.4"/><rect x="244.70" y="51.00" width="1.4" height="1.4"/><rect x="248.30" y="50.70" width="1.4" height="1.4"/><rect x="254.90" y="51.00" width="1.4" height="1.4"/><rect x="258.50" y="52.50" width="1.4" height="1.4"/><rect x="260.70" y="53.50" width="1.4" height="1.4"/><rect x="262.20" y="56.90" width="1.4" height="1.4"/><rect x="263.70" y="56.10" width="1.4" height="1.4"/><rect x="261.50" y="58.80" width="1.4" height="1.4"/><rect x="264.40" y="59.80" width="1.4" height="1.4"/><rect x="265.10" y="57.60" width="1.4" height="1.4"/><rect x="266.60" y="52.50" width="1.4" height="1.4"/><rect x="267.00" y="56.10" width="1.4" height="1.4"/><rect x="267.00" y="86.10" width="1.4" height="1.4"/><rect x="267.00" y="83.60" width="1.4" height="1.4"/><rect x="184.80" y="93.10" width="1.4" height="1.4"/><rect x="187.00" y="93.50" width="1.4" height="1.4"/><rect x="189.20" y="93.10" width="1.4" height="1.4"/><rect x="191.80" y="92.50" width="1.4" height="1.4"/><rect x="197.20" y="94.20" width="1.4" height="1.4"/><rect x="194.30" y="95.70" width="1.4" height="1.4"/><rect x="196.20" y="97.90" width="1.4" height="1.4"/><rect x="179.70" y="96.40" width="1.4" height="1.4"/><rect x="180.40" y="98.60" width="1.4" height="1.4"/><rect x="184.50" y="97.40" width="1.4" height="1.4"/><rect x="181.90" y="100.10" width="1.4" height="1.4"/><rect x="183.40" y="101.80" width="1.4" height="1.4"/><rect x="173.40" y="103.30" width="1.4" height="1.4"/><rect x="189.20" y="101.80" width="1.4" height="1.4"/><rect x="190.70" y="104.70" width="1.4" height="1.4"/><rect x="189.90" y="107.10" width="1.4" height="1.4"/><rect x="178.70" y="106.60" width="1.4" height="1.4"/><rect x="180.40" y="107.70" width="1.4" height="1.4"/><rect x="181.60" y="108.80" width="1.4" height="1.4"/><rect x="181.90" y="110.30" width="1.4" height="1.4"/><rect x="182.60" y="112.00" width="1.4" height="1.4"/><rect x="183.70" y="113.90" width="1.4" height="1.4"/><rect x="186.30" y="112.50" width="1.4" height="1.4"/><rect x="187.70" y="112.90" width="1.4" height="1.4"/><rect x="188.90" y="114.90" width="1.4" height="1.4"/><rect x="184.80" y="117.90" width="1.4" height="1.4"/><rect x="186.30" y="117.30" width="1.4" height="1.4"/><rect x="173.40" y="122.20" width="1.4" height="1.4"/><rect x="185.50" y="122.00" width="1.4" height="1.4"/><rect x="181.90" y="123.10" width="1.4" height="1.4"/><rect x="180.40" y="123.70" width="1.4" height="1.4"/><rect x="178.70" y="124.90" width="1.4" height="1.4"/><rect x="177.20" y="125.20" width="1.4" height="1.4"/><rect x="179.30" y="126.00" width="1.4" height="1.4"/><rect x="193.60" y="111.70" width="1.4" height="1.4"/><rect x="195.80" y="111.70" width="1.4" height="1.4"/><rect x="197.20" y="113.20" width="1.4" height="1.4"/><rect x="198.20" y="114.40" width="1.4" height="1.4"/><rect x="196.50" y="114.90" width="1.4" height="1.4"/><rect x="193.30" y="118.30" width="1.4" height="1.4"/><rect x="196.50" y="121.20" width="1.4" height="1.4"/><rect x="198.70" y="120.50" width="1.4" height="1.4"/><rect x="198.00" y="107.40" width="1.4" height="1.4"/><rect x="199.40" y="106.60" width="1.4" height="1.4"/><rect x="201.20" y="108.80" width="1.4" height="1.4"/><rect x="201.60" y="109.50" width="1.4" height="1.4"/><rect x="200.90" y="103.30" width="1.4" height="1.4"/><rect x="206.00" y="106.60" width="1.4" height="1.4"/><rect x="206.70" y="109.50" width="1.4" height="1.4"/><rect x="207.90" y="111.40" width="1.4" height="1.4"/><rect x="208.50" y="113.20" width="1.4" height="1.4"/><rect x="203.50" y="114.40" width="1.4" height="1.4"/><rect x="205.30" y="119.00" width="1.4" height="1.4"/><rect x="206.00" y="121.20" width="1.4" height="1.4"/><rect x="207.40" y="122.70" width="1.4" height="1.4"/><rect x="206.70" y="124.10" width="1.4" height="1.4"/><rect x="208.90" y="116.10" width="1.4" height="1.4"/><rect x="209.60" y="118.30" width="1.4" height="1.4"/><rect x="211.10" y="122.70" width="1.4" height="1.4"/><rect x="211.80" y="124.10" width="1.4" height="1.4"/><rect x="210.80" y="125.60" width="1.4" height="1.4"/><rect x="199.10" y="125.60" width="1.4" height="1.4"/><rect x="200.60" y="126.30" width="1.4" height="1.4"/><rect x="199.40" y="127.50" width="1.4" height="1.4"/><rect x="202.00" y="128.50" width="1.4" height="1.4"/><rect x="211.10" y="93.10" width="1.4" height="1.4"/><rect x="212.80" y="93.50" width="1.4" height="1.4"/><rect x="215.50" y="93.50" width="1.4" height="1.4"/><rect x="217.70" y="93.10" width="1.4" height="1.4"/><rect x="216.90" y="92.00" width="1.4" height="1.4"/><rect x="209.60" y="96.40" width="1.4" height="1.4"/><rect x="209.90" y="97.90" width="1.4" height="1.4"/><rect x="207.40" y="97.40" width="1.4" height="1.4"/><rect x="206.70" y="99.30" width="1.4" height="1.4"/><rect x="205.00" y="100.10" width="1.4" height="1.4"/><rect x="214.00" y="103.30" width="1.4" height="1.4"/><rect x="219.60" y="100.10" width="1.4" height="1.4"/><rect x="211.80" y="111.00" width="1.4" height="1.4"/><rect x="214.70" y="110.30" width="1.4" height="1.4"/><rect x="216.20" y="109.50" width="1.4" height="1.4"/><rect x="217.70" y="110.30" width="1.4" height="1.4"/><rect x="219.60" y="108.80" width="1.4" height="1.4"/><rect x="220.10" y="107.70" width="1.4" height="1.4"/><rect x="218.40" y="110.00" width="1.4" height="1.4"/><rect x="215.20" y="114.70" width="1.4" height="1.4"/><rect x="218.40" y="119.00" width="1.4" height="1.4"/><rect x="222.80" y="125.60" width="1.4" height="1.4"/><rect x="225.00" y="106.60" width="1.4" height="1.4"/><rect x="227.90" y="107.70" width="1.4" height="1.4"/><rect x="226.90" y="111.40" width="1.4" height="1.4"/><rect x="225.70" y="114.70" width="1.4" height="1.4"/><rect x="228.30" y="115.80" width="1.4" height="1.4"/><rect x="231.50" y="116.10" width="1.4" height="1.4"/><rect x="232.30" y="115.40" width="1.4" height="1.4"/><rect x="231.10" y="119.80" width="1.4" height="1.4"/><rect x="230.80" y="92.50" width="1.4" height="1.4"/><rect x="233.00" y="93.10" width="1.4" height="1.4"/><rect x="234.70" y="93.50" width="1.4" height="1.4"/><rect x="235.90" y="92.50" width="1.4" height="1.4"/><rect x="238.80" y="93.10" width="1.4" height="1.4"/><rect x="241.00" y="93.50" width="1.4" height="1.4"/><rect x="240.30" y="92.00" width="1.4" height="1.4"/><rect x="234.50" y="96.40" width="1.4" height="1.4"/><rect x="242.50" y="96.80" width="1.4" height="1.4"/><rect x="246.90" y="94.20" width="1.4" height="1.4"/><rect x="249.80" y="92.50" width="1.4" height="1.4"/><rect x="254.20" y="94.50" width="1.4" height="1.4"/><rect x="252.00" y="96.80" width="1.4" height="1.4"/><rect x="249.10" y="98.30" width="1.4" height="1.4"/><rect x="248.30" y="102.70" width="1.4" height="1.4"/><rect x="244.70" y="104.10" width="1.4" height="1.4"/><rect x="246.90" y="103.30" width="1.4" height="1.4"/><rect x="241.50" y="108.50" width="1.4" height="1.4"/><rect x="249.80" y="107.70" width="1.4" height="1.4"/><rect x="248.30" y="109.50" width="1.4" height="1.4"/><rect x="249.10" y="111.40" width="1.4" height="1.4"/><rect x="251.20" y="111.00" width="1.4" height="1.4"/><rect x="253.40" y="111.40" width="1.4" height="1.4"/><rect x="255.60" y="111.00" width="1.4" height="1.4"/><rect x="254.90" y="113.20" width="1.4" height="1.4"/><rect x="252.00" y="113.90" width="1.4" height="1.4"/><rect x="249.80" y="114.70" width="1.4" height="1.4"/><rect x="250.50" y="116.80" width="1.4" height="1.4"/><rect x="248.30" y="116.10" width="1.4" height="1.4"/><rect x="249.10" y="118.30" width="1.4" height="1.4"/><rect x="246.90" y="117.90" width="1.4" height="1.4"/><rect x="245.40" y="119.80" width="1.4" height="1.4"/><rect x="247.60" y="120.50" width="1.4" height="1.4"/><rect x="249.80" y="121.20" width="1.4" height="1.4"/><rect x="251.20" y="119.80" width="1.4" height="1.4"/><rect x="253.40" y="117.60" width="1.4" height="1.4"/><rect x="254.90" y="120.50" width="1.4" height="1.4"/><rect x="255.60" y="114.70" width="1.4" height="1.4"/><rect x="246.10" y="122.70" width="1.4" height="1.4"/><rect x="244.70" y="124.10" width="1.4" height="1.4"/><rect x="246.90" y="126.30" width="1.4" height="1.4"/><rect x="246.10" y="127.80" width="1.4" height="1.4"/><rect x="250.50" y="125.20" width="1.4" height="1.4"/><rect x="251.20" y="126.60" width="1.4" height="1.4"/><rect x="254.20" y="125.60" width="1.4" height="1.4"/><rect x="255.60" y="124.60" width="1.4" height="1.4"/><rect x="238.10" y="121.20" width="1.4" height="1.4"/><rect x="237.10" y="123.10" width="1.4" height="1.4"/><rect x="238.10" y="125.60" width="1.4" height="1.4"/><rect x="240.00" y="126.30" width="1.4" height="1.4"/><rect x="241.00" y="125.20" width="1.4" height="1.4"/><rect x="240.30" y="127.50" width="1.4" height="1.4"/><rect x="257.80" y="108.10" width="1.4" height="1.4"/><rect x="259.30" y="109.50" width="1.4" height="1.4"/><rect x="260.70" y="121.20" width="1.4" height="1.4"/><rect x="262.20" y="99.30" width="1.4" height="1.4"/><rect x="264.40" y="97.90" width="1.4" height="1.4"/><rect x="266.60" y="97.40" width="1.4" height="1.4"/><rect x="273.00" y="14.30" width="1.4" height="1.4"/><rect x="274.40" y="15.30" width="1.4" height="1.4"/><rect x="276.60" y="14.30" width="1.4" height="1.4"/><rect x="278.00" y="13.90" width="1.4" height="1.4"/><rect x="283.10" y="14.30" width="1.4" height="1.4"/><rect x="281.60" y="17.20" width="1.4" height="1.4"/><rect x="284.80" y="16.50" width="1.4" height="1.4"/><rect x="285.20" y="18.20" width="1.4" height="1.4"/><rect x="286.20" y="19.10" width="1.4" height="1.4"/><rect x="284.80" y="20.50" width="1.4" height="1.4"/><rect x="278.80" y="22.00" width="1.4" height="1.4"/><rect x="273.70" y="24.40" width="1.4" height="1.4"/><rect x="274.40" y="28.00" width="1.4" height="1.4"/><rect x="279.90" y="27.70" width="1.4" height="1.4"/><rect x="282.40" y="26.60" width="1.4" height="1.4"/><rect x="281.60" y="28.70" width="1.4" height="1.4"/><rect x="282.80" y="25.80" width="1.4" height="1.4"/><rect x="283.80" y="25.10" width="1.4" height="1.4"/><rect x="285.20" y="25.80" width="1.4" height="1.4"/><rect x="286.70" y="24.40" width="1.4" height="1.4"/><rect x="285.20" y="28.00" width="1.4" height="1.4"/><rect x="280.90" y="30.60" width="1.4" height="1.4"/><rect x="282.80" y="30.90" width="1.4" height="1.4"/><rect x="278.00" y="31.60" width="1.4" height="1.4"/><rect x="280.90" y="33.80" width="1.4" height="1.4"/><rect x="285.20" y="33.00" width="1.4" height="1.4"/><rect x="286.70" y="33.00" width="1.4" height="1.4"/><rect x="285.70" y="35.90" width="1.4" height="1.4"/><rect x="268.00" y="32.60" width="1.4" height="1.4"/><rect x="270.40" y="33.00" width="1.4" height="1.4"/><rect x="267.50" y="35.90" width="1.4" height="1.4"/><rect x="269.80" y="36.60" width="1.4" height="1.4"/><rect x="273.70" y="35.90" width="1.4" height="1.4"/><rect x="268.40" y="39.80" width="1.4" height="1.4"/><rect x="270.80" y="39.50" width="1.4" height="1.4"/><rect x="272.70" y="42.70" width="1.4" height="1.4"/><rect x="275.90" y="42.10" width="1.4" height="1.4"/><rect x="277.00" y="43.50" width="1.4" height="1.4"/><rect x="279.90" y="42.70" width="1.4" height="1.4"/><rect x="282.40" y="42.10" width="1.4" height="1.4"/><rect x="283.80" y="40.20" width="1.4" height="1.4"/><rect x="286.20" y="38.80" width="1.4" height="1.4"/><rect x="287.40" y="39.50" width="1.4" height="1.4"/><rect x="282.80" y="43.10" width="1.4" height="1.4"/><rect x="273.00" y="46.00" width="1.4" height="1.4"/><rect x="270.80" y="47.90" width="1.4" height="1.4"/><rect x="273.70" y="48.10" width="1.4" height="1.4"/><rect x="280.90" y="49.60" width="1.4" height="1.4"/><rect x="268.40" y="53.50" width="1.4" height="1.4"/><rect x="268.00" y="56.80" width="1.4" height="1.4"/><rect x="270.10" y="57.20" width="1.4" height="1.4"/><rect x="271.60" y="56.80" width="1.4" height="1.4"/><rect x="273.00" y="57.50" width="1.4" height="1.4"/><rect x="272.30" y="53.20" width="1.4" height="1.4"/><rect x="276.60" y="51.50" width="1.4" height="1.4"/><rect x="281.60" y="51.00" width="1.4" height="1.4"/><rect x="284.50" y="52.50" width="1.4" height="1.4"/><rect x="285.20" y="54.30" width="1.4" height="1.4"/><rect x="283.10" y="55.30" width="1.4" height="1.4"/><rect x="280.90" y="58.20" width="1.4" height="1.4"/><rect x="279.90" y="59.70" width="1.4" height="1.4"/><rect x="270.80" y="61.10" width="1.4" height="1.4"/><rect x="272.30" y="62.10" width="1.4" height="1.4"/><rect x="277.30" y="63.00" width="1.4" height="1.4"/><rect x="278.50" y="64.00" width="1.4" height="1.4"/><rect x="275.90" y="64.70" width="1.4" height="1.4"/><rect x="278.00" y="65.80" width="1.4" height="1.4"/><rect x="273.00" y="66.10" width="1.4" height="1.4"/><rect x="275.20" y="67.30" width="1.4" height="1.4"/><rect x="274.20" y="69.70" width="1.4" height="1.4"/><rect x="273.00" y="71.60" width="1.4" height="1.4"/><rect x="271.90" y="73.60" width="1.4" height="1.4"/><rect x="280.20" y="72.20" width="1.4" height="1.4"/><rect x="282.40" y="76.20" width="1.4" height="1.4"/><rect x="284.50" y="76.90" width="1.4" height="1.4"/><rect x="276.20" y="77.60" width="1.4" height="1.4"/><rect x="280.20" y="79.10" width="1.4" height="1.4"/><rect x="273.70" y="81.70" width="1.4" height="1.4"/><rect x="274.70" y="82.70" width="1.4" height="1.4"/><rect x="277.30" y="83.70" width="1.4" height="1.4"/><rect x="279.50" y="82.20" width="1.4" height="1.4"/><rect x="270.80" y="83.40" width="1.4" height="1.4"/><rect x="268.00" y="83.10" width="1.4" height="1.4"/><rect x="275.90" y="87.00" width="1.4" height="1.4"/><rect x="283.10" y="84.10" width="1.4" height="1.4"/><rect x="285.20" y="85.10" width="1.4" height="1.4"/><rect x="286.70" y="86.00" width="1.4" height="1.4"/><rect x="270.10" y="90.60" width="1.4" height="1.4"/><rect x="273.00" y="89.90" width="1.4" height="1.4"/><rect x="268.00" y="93.50" width="1.4" height="1.4"/><rect x="269.40" y="92.50" width="1.4" height="1.4"/><rect x="274.40" y="96.30" width="1.4" height="1.4"/><rect x="284.20" y="96.30" width="1.4" height="1.4"/><rect x="275.90" y="104.00" width="1.4" height="1.4"/><rect x="277.30" y="105.70" width="1.4" height="1.4"/><rect x="278.80" y="105.00" width="1.4" height="1.4"/><rect x="271.30" y="111.20" width="1.4" height="1.4"/><rect x="277.00" y="113.20" width="1.4" height="1.4"/><rect x="282.40" y="117.90" width="1.4" height="1.4"/><rect x="281.60" y="120.40" width="1.4" height="1.4"/></g>
<line x1="172.2" y1="135.1" x2="249.7" y2="135.1" stroke="#8c8c8c" stroke-width="0.9"/>
<text x="211.2" y="142.4" font-size="5.6" text-anchor="middle" font-weight="normal" font-style="normal" fill="#000">1 mm</text>
<rect x="310.5" y="11.6" width="148.8" height="128.2" fill="#fff" stroke="#9c9c9c" stroke-width="1.3"/>
<path d="M332.2,75.1a52,52 0 1,0 104,0a52,52 0 1,0 -104,0Z M346.5,75.1a37.7,37.7 0 1,1 75.4,0a37.7,37.7 0 1,1 -75.4,0Z" fill="#9b9b9b" fill-rule="evenodd"/>
<circle cx="384.2" cy="75.1" r="52" fill="none" stroke="#111" stroke-width="0.9" stroke-dasharray="3 1.8"/>
<circle cx="384.2" cy="75.1" r="37.7" fill="none" stroke="#111" stroke-width="0.9" stroke-dasharray="3 1.8"/>
<path d="M422.4,71 L422.4,80.5 M435.7,70.4 L435.7,80.5" stroke="#111" stroke-width="0.8" stroke-dasharray="2 1.2" fill="none"/>
<circle cx="345.4" cy="33" r="2.2" fill="#c4c4c4" stroke="#777" stroke-width="0.75"/>
<circle cx="334.2" cy="50.9" r="2.2" fill="#c4c4c4" stroke="#777" stroke-width="0.75"/>
<circle cx="366" cy="56.8" r="2.2" fill="#c4c4c4" stroke="#777" stroke-width="0.75"/>
<circle cx="385.9" cy="44.7" r="2.2" fill="#c4c4c4" stroke="#777" stroke-width="0.75"/>
<circle cx="392.1" cy="64.5" r="2.2" fill="#c4c4c4" stroke="#777" stroke-width="0.75"/>
<circle cx="384.1" cy="75" r="2.2" fill="#c4c4c4" stroke="#777" stroke-width="0.75"/>
<circle cx="357.8" cy="77.6" r="2.2" fill="#c4c4c4" stroke="#777" stroke-width="0.75"/>
<circle cx="405.5" cy="51.4" r="2.2" fill="#c4c4c4" stroke="#777" stroke-width="0.75"/>
<circle cx="323" cy="93" r="2.2" fill="#c4c4c4" stroke="#777" stroke-width="0.75"/>
<circle cx="380.8" cy="93" r="2.2" fill="#c4c4c4" stroke="#777" stroke-width="0.75"/>
<circle cx="401.2" cy="85.5" r="2.2" fill="#c4c4c4" stroke="#777" stroke-width="0.75"/>
<circle cx="372.2" cy="106.6" r="2.2" fill="#c4c4c4" stroke="#777" stroke-width="0.75"/>
<circle cx="330.3" cy="117" r="2.2" fill="#c4c4c4" stroke="#777" stroke-width="0.75"/>
<circle cx="357.8" cy="125.9" r="2.2" fill="#c4c4c4" stroke="#777" stroke-width="0.75"/>
<circle cx="430.4" cy="40.3" r="2.2" fill="#c4c4c4" stroke="#777" stroke-width="0.75"/>
<circle cx="446.9" cy="59.7" r="2.2" fill="#c4c4c4" stroke="#777" stroke-width="0.75"/>
<circle cx="441" cy="80" r="2.2" fill="#c4c4c4" stroke="#777" stroke-width="0.75"/>
<circle cx="443.1" cy="100.5" r="2.2" fill="#c4c4c4" stroke="#777" stroke-width="0.75"/>
<circle cx="421.3" cy="126.2" r="2.2" fill="#c4c4c4" stroke="#777" stroke-width="0.75"/>
<circle cx="390" cy="28.1" r="2.2" fill="#fff" stroke="#777" stroke-width="0.75"/>
<circle cx="340" cy="77.6" r="2.2" fill="#fff" stroke="#777" stroke-width="0.75"/>
<circle cx="396.6" cy="113.9" r="2.2" fill="#fff" stroke="#777" stroke-width="0.75"/>
<circle cx="424.2" cy="87" r="2.2" fill="#fff" stroke="#777" stroke-width="0.75"/>
<line x1="384.2" y1="75.1" x2="417.7" y2="67.6" stroke="#000" stroke-width="0.8"/><polygon points="421.2,66.8 418.0,69.0 417.4,66.2" fill="#000"/>
<polygon points="422.6,71.0 425.3,72.1 425.1,69.7" fill="#000"/><line x1="425.2" y1="70.9" x2="432.9" y2="70.4" stroke="#000" stroke-width="0.8"/><polygon points="435.5,70.3 433.0,71.6 432.8,69.2" fill="#000"/>
<text x="401.6" y="69.6" font-size="8.5" text-anchor="middle" font-weight="bold" font-style="normal" fill="#000" font-family='"Liberation Serif", serif'>r</text>
<text x="428.9" y="79.2" font-size="8.5" text-anchor="middle" font-weight="bold" font-style="normal" fill="#000" font-family='"Liberation Serif", serif'>dr</text>
<line x1="497.7" y1="9.4" x2="497.7" y2="130.6" stroke="#7a7a7a" stroke-width="0.8"/>
<line x1="497.3" y1="130.6" x2="661.8" y2="130.6" stroke="#7a7a7a" stroke-width="0.8"/>
<line x1="497.7" y1="70.2" x2="661.8" y2="70.2" stroke="#bdbdbd" stroke-width="0.7" stroke-dasharray="0.7 0.7"/>
<polyline points="497.7,130.5 501.1,10.1 502.6,37.8 504.5,35.6 505.8,46.1 508.7,47.3 510.4,51.4 512.2,48.0 514.1,53.4 515.5,51.7 517.4,57.8 519.9,58.7 522.4,63.4 524.3,61.6 526.8,66.3 529.1,63.1 533.8,63.4 535.5,64.8 537.0,62.6 540.4,71.4 542.1,65.1 543.6,66.0 545.2,69.2 547.2,67.7 549.1,65.5 550.1,67.4 552.0,64.1 553.5,66.0 557.2,67.0 558.3,64.8 559.8,67.0 561.5,66.0 563.7,69.2 565.2,66.0 566.6,67.7 569.6,67.0 573.2,70.7 574.7,70.7 576.4,66.6 577.9,71.4 579.8,68.9 581.5,67.8 582.9,69.0 584.4,66.5 586.1,69.0 587.6,67.2 590.2,68.2 593.1,67.5 594.6,68.7 596.1,68.2 598.2,71.5 601.2,68.5 602.6,69.7 606.0,68.0 607.7,73.4 610.7,69.0 614.3,73.4 617.7,69.0 619.1,71.6 620.9,68.7 624.2,74.8 627.9,70.4 630.7,74.1 633.7,70.0 635.5,71.5 636.9,71.2 639.1,73.6 642.5,67.2 644.2,70.1 646.0,68.5 647.9,69.7 650.8,72.2 653.7,72.6 655.5,70.4 657.4,72.9 658.8,73.4 660.7,72.6" fill="none" stroke="#111" stroke-width="0.98" stroke-linejoin="round"/>
<text x="497.8" y="137.3" font-size="5" text-anchor="middle" font-weight="normal" font-style="normal" fill="#000">0.0</text>
<text x="530.6" y="137.3" font-size="5" text-anchor="middle" font-weight="normal" font-style="normal" fill="#000">0.2</text>
<text x="563.4" y="137.3" font-size="5" text-anchor="middle" font-weight="normal" font-style="normal" fill="#000">0.4</text>
<text x="596.2" y="137.3" font-size="5" text-anchor="middle" font-weight="normal" font-style="normal" fill="#000">0.6</text>
<text x="629.0" y="137.3" font-size="5" text-anchor="middle" font-weight="normal" font-style="normal" fill="#000">0.8</text>
<text x="661.8" y="137.3" font-size="5" text-anchor="middle" font-weight="normal" font-style="normal" fill="#000">1.0</text>
<text x="579.7" y="143.2" font-size="5.6" text-anchor="middle" font-weight="normal" font-style="normal" fill="#000">Radius (mm)</text>
<text x="496" y="132.3" font-size="5" text-anchor="end" font-weight="normal" font-style="normal" fill="#000">0</text>
<text x="496" y="72" font-size="5" text-anchor="end" font-weight="normal" font-style="normal" fill="#000">1</text>
<text x="484.2" y="12.0" font-size="7" fill="#000"><tspan font-style="italic">g</tspan><tspan font-size="4" dy="1.1" font-style="italic">max</tspan></text>
<text x="485.3" y="72" font-size="5.2" fill="#000" text-anchor="middle" transform="rotate(-90 485.3 72)"><tspan font-style="italic">g</tspan>(<tspan font-style="italic">r</tspan>)</text>
<defs><clipPath id="ce"><rect x="5.1" y="157.4" width="154.7" height="124.8"/></clipPath></defs>
<rect x="5.0" y="157.4" width="154.8" height="124.8" fill="#fff" stroke="#5c5c5c" stroke-width="1.1"/>
<g clip-path="url(#ce)" fill="none" stroke="#111" stroke-width="1">
<circle cx="59.9" cy="168.4" r="8" stroke-dasharray="2.9 2.4"/>
<circle cx="15.5" cy="227.6" r="17.5" stroke-dasharray="3.8 2.6"/>
<circle cx="87.7" cy="229.3" r="36.3" stroke-dasharray="3.8 2.6"/>
<circle cx="142" cy="180.7" r="9.1"/>
<circle cx="23.6" cy="275.5" r="24.6"/>
</g>
<circle cx="22.6" cy="174.2" r="2.2" fill="#b2b2b2" stroke="#6a6a6a" stroke-width="0.7"/>
<circle cx="48.9" cy="168.1" r="2.2" fill="#b2b2b2" stroke="#6a6a6a" stroke-width="0.7"/>
<circle cx="96" cy="164" r="2.2" fill="#b2b2b2" stroke="#6a6a6a" stroke-width="0.7"/>
<circle cx="127.4" cy="166.9" r="2.2" fill="#b2b2b2" stroke="#6a6a6a" stroke-width="0.7"/>
<circle cx="151.8" cy="163.2" r="2.2" fill="#b2b2b2" stroke="#6a6a6a" stroke-width="0.7"/>
<circle cx="114.5" cy="181.2" r="2.2" fill="#b2b2b2" stroke="#6a6a6a" stroke-width="0.7"/>
<circle cx="142" cy="180.8" r="2.2" fill="#b2b2b2" stroke="#6a6a6a" stroke-width="0.7"/>
<circle cx="19.7" cy="198.2" r="2.2" fill="#b2b2b2" stroke="#6a6a6a" stroke-width="0.7"/>
<circle cx="47.2" cy="192.4" r="2.2" fill="#b2b2b2" stroke="#6a6a6a" stroke-width="0.7"/>
<circle cx="69.1" cy="190.2" r="2.2" fill="#b2b2b2" stroke="#6a6a6a" stroke-width="0.7"/>
<circle cx="84.4" cy="190.4" r="2.2" fill="#b2b2b2" stroke="#6a6a6a" stroke-width="0.7"/>
<circle cx="32.4" cy="217.2" r="2.2" fill="#b2b2b2" stroke="#6a6a6a" stroke-width="0.7"/>
<circle cx="133.8" cy="189.2" r="2.2" fill="#b2b2b2" stroke="#6a6a6a" stroke-width="0.7"/>
<circle cx="138.6" cy="200.9" r="2.2" fill="#b2b2b2" stroke="#6a6a6a" stroke-width="0.7"/>
<circle cx="148.4" cy="198" r="2.2" fill="#b2b2b2" stroke="#6a6a6a" stroke-width="0.7"/>
<circle cx="121.5" cy="206.3" r="2.2" fill="#b2b2b2" stroke="#6a6a6a" stroke-width="0.7"/>
<circle cx="139.3" cy="210.4" r="2.2" fill="#b2b2b2" stroke="#6a6a6a" stroke-width="0.7"/>
<circle cx="148.6" cy="214.8" r="2.2" fill="#b2b2b2" stroke="#6a6a6a" stroke-width="0.7"/>
<circle cx="24.1" cy="247" r="2.2" fill="#b2b2b2" stroke="#6a6a6a" stroke-width="0.7"/>
<circle cx="38.7" cy="253.8" r="2.2" fill="#b2b2b2" stroke="#6a6a6a" stroke-width="0.7"/>
<circle cx="22.3" cy="274.2" r="2.2" fill="#b2b2b2" stroke="#6a6a6a" stroke-width="0.7"/>
<circle cx="54.3" cy="270" r="2.2" fill="#b2b2b2" stroke="#6a6a6a" stroke-width="0.7"/>
<circle cx="69.6" cy="272" r="2.2" fill="#b2b2b2" stroke="#6a6a6a" stroke-width="0.7"/>
<circle cx="77" cy="268.1" r="2.2" fill="#b2b2b2" stroke="#6a6a6a" stroke-width="0.7"/>
<circle cx="97.9" cy="267.4" r="2.2" fill="#b2b2b2" stroke="#6a6a6a" stroke-width="0.7"/>
<circle cx="117" cy="271.3" r="2.2" fill="#b2b2b2" stroke="#6a6a6a" stroke-width="0.7"/>
<circle cx="126.6" cy="255" r="2.2" fill="#b2b2b2" stroke="#6a6a6a" stroke-width="0.7"/>
<circle cx="133.1" cy="265.2" r="2.2" fill="#b2b2b2" stroke="#6a6a6a" stroke-width="0.7"/>
<circle cx="146.4" cy="260.1" r="2.2" fill="#b2b2b2" stroke="#6a6a6a" stroke-width="0.7"/>
<circle cx="144.8" cy="243.6" r="2.2" fill="#b2b2b2" stroke="#6a6a6a" stroke-width="0.7"/>
<circle cx="143.3" cy="269.8" r="2.2" fill="#b2b2b2" stroke="#6a6a6a" stroke-width="0.7"/>
<circle cx="137.6" cy="274.7" r="2.2" fill="#b2b2b2" stroke="#6a6a6a" stroke-width="0.7"/>
<circle cx="145.9" cy="277.6" r="2.2" fill="#b2b2b2" stroke="#6a6a6a" stroke-width="0.7"/>
<circle cx="153.5" cy="273.2" r="2.2" fill="#b2b2b2" stroke="#6a6a6a" stroke-width="0.7"/>
<g stroke-linecap="round" fill="none"><path d="M57.8,166.85500000000002L61.2,169.745M57.8,169.745L61.2,166.85500000000002" stroke="#4a4a4a" stroke-width="2"/><path d="M57.8,166.85500000000002L61.2,169.745M57.8,169.745L61.2,166.85500000000002" stroke="#a0a0a0" stroke-width="0.8"/></g>
<g stroke-linecap="round" fill="none"><path d="M13.5,226.17L17.1,229.23M13.5,229.23L17.1,226.17" stroke="#4a4a4a" stroke-width="2"/><path d="M13.5,226.17L17.1,229.23M13.5,229.23L17.1,226.17" stroke="#a0a0a0" stroke-width="0.8"/></g>
<g stroke-linecap="round" fill="none"><path d="M85.9,227.77L89.5,230.83M85.9,230.83L89.5,227.77" stroke="#4a4a4a" stroke-width="2"/><path d="M85.9,227.77L89.5,230.83M85.9,230.83L89.5,227.77" stroke="#a0a0a0" stroke-width="0.8"/></g>
<line x1="57.0" y1="168.3" x2="55.6" y2="168.3" stroke="#000" stroke-width="0.9"/><polygon points="51.4,168.3 55.6,166.8 55.6,169.8" fill="#000"/>
<line x1="17.5" y1="226.3" x2="26.5" y2="220.8" stroke="#000" stroke-width="0.8"/><polygon points="30.4,218.4 27.4,222.3 25.6,219.4" fill="#000"/>
<line x1="87.6" y1="226.5" x2="85.0" y2="197.8" stroke="#000" stroke-width="0.7"/><polygon points="84.6,193.0 86.7,197.6 83.3,197.9" fill="#000"/>
<line x1="141.5" y1="181.3" x2="138.3" y2="184.6" stroke="#000" stroke-width="0.8"/><polygon points="135.2,187.8 137.0,183.5 139.5,185.8" fill="#000"/>
<line x1="23.8" y1="272.3" x2="34.4" y2="259.2" stroke="#000" stroke-width="0.8"/><polygon points="37.4,255.5 35.7,260.3 33.1,258.2" fill="#000"/>
<text x="47.5" y="164.8" font-size="8" text-anchor="middle" font-weight="normal" font-style="normal" fill="#000">iii</text>
<text x="130.7" y="177.5" font-size="8" text-anchor="middle" font-weight="normal" font-style="normal" fill="#000">i</text>
<text x="24.2" y="232.8" font-size="8" text-anchor="middle" font-weight="normal" font-style="normal" fill="#000">iv</text>
<text x="90.6" y="219.4" font-size="8" text-anchor="middle" font-weight="normal" font-style="normal" fill="#000">v</text>
<text x="16.6" y="273.6" font-size="8" text-anchor="middle" font-weight="normal" font-style="normal" fill="#000">ii</text>
<rect x="191.88" y="179.72" width="4.83" height="26.98" fill="#161616"/>
<rect x="197.21" y="159.65" width="4.83" height="47.05" fill="#161616"/>
<rect x="202.54" y="187.97" width="4.83" height="18.73" fill="#161616"/>
<rect x="207.87" y="193.10" width="4.83" height="13.60" fill="#161616"/>
<rect x="213.20" y="201.91" width="4.83" height="4.79" fill="#161616"/>
<rect x="218.53" y="204.92" width="4.83" height="1.78" fill="#161616"/>
<rect x="223.86" y="205.14" width="4.83" height="1.56" fill="#161616"/>
<rect x="229.19" y="206.03" width="4.83" height="0.67" fill="#161616"/>
<rect x="186.55" y="260.22" width="4.83" height="7.88" fill="#161616"/>
<rect x="191.88" y="246.20" width="4.83" height="21.90" fill="#161616"/>
<rect x="197.21" y="247.73" width="4.83" height="20.37" fill="#161616"/>
<rect x="202.54" y="253.87" width="4.83" height="14.23" fill="#161616"/>
<rect x="207.87" y="256.06" width="4.83" height="12.04" fill="#161616"/>
<rect x="213.20" y="256.93" width="4.83" height="11.17" fill="#161616"/>
<rect x="218.53" y="263.94" width="4.83" height="4.16" fill="#161616"/>
<rect x="223.86" y="263.94" width="4.83" height="4.16" fill="#161616"/>
<rect x="229.19" y="265.25" width="4.83" height="2.85" fill="#161616"/>
<rect x="234.52" y="267.00" width="4.83" height="1.09" fill="#161616"/>
<rect x="239.85" y="266.35" width="4.83" height="1.75" fill="#161616"/>
<rect x="245.18" y="267.00" width="4.83" height="1.09" fill="#161616"/>
<rect x="250.51" y="266.35" width="4.83" height="1.75" fill="#161616"/>
<rect x="255.84" y="267.22" width="4.83" height="0.88" fill="#161616"/>
<rect x="261.17" y="267.66" width="4.83" height="0.44" fill="#161616"/>
<rect x="266.50" y="267.00" width="4.83" height="1.09" fill="#161616"/>
<rect x="282.49" y="267.77" width="4.83" height="0.33" fill="#161616"/>
<rect x="186.3" y="156.7" width="112.6" height="50" fill="none" stroke="#8e8e8e" stroke-width="0.9"/>
<rect x="186.3" y="218.6" width="112.6" height="49.5" fill="none" stroke="#8e8e8e" stroke-width="0.9"/>
<text x="183.2" y="164.0" font-size="5.4" text-anchor="end" font-weight="normal" font-style="normal" fill="#000">200</text>
<text x="183.2" y="186.3" font-size="5.4" text-anchor="end" font-weight="normal" font-style="normal" fill="#000">100</text>
<text x="183.2" y="208.6" font-size="5.4" text-anchor="end" font-weight="normal" font-style="normal" fill="#000">0</text>
<text x="183.2" y="226.0" font-size="5.4" text-anchor="end" font-weight="normal" font-style="normal" fill="#000">200</text>
<text x="183.2" y="247.9" font-size="5.4" text-anchor="end" font-weight="normal" font-style="normal" fill="#000">100</text>
<text x="183.2" y="270.0" font-size="5.4" text-anchor="end" font-weight="normal" font-style="normal" fill="#000">0</text>
<text x="186.4" y="276.1" font-size="5.3" text-anchor="middle" font-weight="normal" font-style="normal" fill="#000">0.00</text>
<text x="213.1" y="276.1" font-size="5.3" text-anchor="middle" font-weight="normal" font-style="normal" fill="#000">0.05</text>
<text x="239.8" y="276.1" font-size="5.3" text-anchor="middle" font-weight="normal" font-style="normal" fill="#000">0.10</text>
<text x="266.5" y="276.1" font-size="5.3" text-anchor="middle" font-weight="normal" font-style="normal" fill="#000">0.15</text>
<text x="293.2" y="276.1" font-size="5.3" text-anchor="middle" font-weight="normal" font-style="normal" fill="#000">0.20</text>
<text x="242.6" y="282.2" font-size="6.1" text-anchor="middle" font-weight="normal" font-style="normal" fill="#000">Radius (mm)</text>
<text x="170.6" y="181.7" font-size="6.1" text-anchor="middle" font-weight="normal" font-style="normal" fill="#000" transform="rotate(-90 170.6 181.7)">NN frequency</text>
<text x="170.6" y="243.4" font-size="6.1" text-anchor="middle" font-weight="normal" font-style="normal" fill="#000" transform="rotate(-90 170.6 243.4)">SCD frequency</text>
<polyline points="333.6,268.1 338.7,258.6 343.0,244.0 343.8,238.4 346.7,229.6 348.9,221.0 351.2,214.5 356.2,206.3 359.1,200.4 362.0,192.6 365.0,187.0 369.5,183.2 374.3,179.8 378.8,176.8 383.0,174.5 387.6,172.6 394.0,170.6 400.4,168.8 408.0,167.0 416.5,165.4 431.1,163.7 447.2,162.5" fill="none" stroke="#111" stroke-width="1.5" stroke-dasharray="5 2.2"/>
<polyline points="339.4,268.1 340.1,256.0 343.8,235.4 346.7,215.0 347.0,211.4 348.9,200.4 351.1,192.4 354.0,185.8 356.2,179.0 358.4,173.5 361.3,169.5 367.2,166.6 371.5,165.1 378.8,163.0 387.6,162.5 447.2,162.5" fill="none" stroke="#111" stroke-width="1.5" stroke-linejoin="round"/>
<rect x="332.4" y="156.7" width="114.8" height="111.4" fill="none" stroke="#8e8e8e" stroke-width="0.9"/>
<text x="329.8" y="270.29999999999995" font-size="5.3" text-anchor="end" font-weight="normal" font-style="normal" fill="#000">0.0</text>
<text x="329.8" y="249.1" font-size="5.3" text-anchor="end" font-weight="normal" font-style="normal" fill="#000">0.2</text>
<text x="329.8" y="227.89999999999998" font-size="5.3" text-anchor="end" font-weight="normal" font-style="normal" fill="#000">0.4</text>
<text x="329.8" y="206.7" font-size="5.3" text-anchor="end" font-weight="normal" font-style="normal" fill="#000">0.6</text>
<text x="329.8" y="185.49999999999997" font-size="5.3" text-anchor="end" font-weight="normal" font-style="normal" fill="#000">0.8</text>
<text x="329.8" y="164.29999999999998" font-size="5.3" text-anchor="end" font-weight="normal" font-style="normal" fill="#000">1.0</text>
<text x="332.7" y="276.1" font-size="5.3" text-anchor="middle" font-weight="normal" font-style="normal" fill="#000">0.00</text>
<text x="359.9" y="276.1" font-size="5.3" text-anchor="middle" font-weight="normal" font-style="normal" fill="#000">0.05</text>
<text x="387.09999999999997" y="276.1" font-size="5.3" text-anchor="middle" font-weight="normal" font-style="normal" fill="#000">0.10</text>
<text x="414.29999999999995" y="276.1" font-size="5.3" text-anchor="middle" font-weight="normal" font-style="normal" fill="#000">0.15</text>
<text x="441.5" y="276.1" font-size="5.3" text-anchor="middle" font-weight="normal" font-style="normal" fill="#000">0.20</text>
<text x="389.8" y="282.2" font-size="6.1" text-anchor="middle" font-weight="normal" font-style="normal" fill="#000">Radius (mm)</text>
<text x="319.3" y="212.4" font-size="6.1" text-anchor="middle" font-weight="normal" font-style="normal" fill="#000" transform="rotate(-90 319.3 212.4)">Cumulative density</text>
<rect x="412.1" y="247.2" width="32.1" height="18.4" fill="#fff" stroke="#d8d8d8" stroke-width="0.7"/>
<line x1="414.3" y1="252" x2="426.7" y2="252" stroke="#111" stroke-width="1.5"/>
<line x1="414.3" y1="260.1" x2="426.7" y2="260.1" stroke="#111" stroke-width="1.5" stroke-dasharray="5 2.2"/>
<text x="430.6" y="254.1" font-size="6" fill="#000"><tspan font-style="italic">G</tspan>(<tspan font-style="italic">r</tspan>)</text>
<text x="430.6" y="262.2" font-size="6" fill="#000"><tspan font-style="italic">F</tspan>(<tspan font-style="italic">r</tspan>)</text>
<line x1="498.6" y1="150.1" x2="498.6" y2="271.3" stroke="#9a9a9a" stroke-width="0.8"/>
<line x1="498.2" y1="271.3" x2="667.7" y2="271.3" stroke="#9a9a9a" stroke-width="0.8"/>
<line x1="498.6" y1="170.2" x2="667.9" y2="170.2" stroke="#b0b0b0" stroke-width="0.7" stroke-dasharray="0.7 0.7"/>
<line x1="498.6" y1="267.6" x2="667.9" y2="267.6" stroke="#b0b0b0" stroke-width="0.7" stroke-dasharray="0.7 0.7"/>
<line x1="663.5" y1="170.2" x2="663.5" y2="271.3" stroke="#8a8a8a" stroke-width="0.6" stroke-dasharray="0.7 0.7"/>
<polyline points="498.9,170.1 500.8,169.1 503.2,165.1 505.1,163.2 507.6,159.6 509.5,162.5 510.5,163.7 512.0,162.5 513.5,166.2 515.4,178.6 517.0,185.8 518.5,193.9 519.9,199.0 521.4,204.1 523.6,208.5 525.3,214.3 527.2,216.5 528.2,221.0 529.4,223.8 530.9,229.6 533.1,235.4 534.1,238.4 535.3,237.6 536.4,241.3 537.4,241.6 538.9,245.7 541.1,247.4 543.3,248.9 545.0,248.1 547.5,252.0 549.1,253.0 551.3,253.3 555.2,254.9 558.8,259.3 562.5,263.7 566.1,266.3 573.4,266.6 582.3,266.3 589.6,265.9 594.7,264.4 597.6,265.2 604.2,267.8 611.5,267.1 617.3,265.9 621.7,263.4 626.1,262.2 637.0,261.2 639.2,258.6 640.7,254.7 645.1,252.0 648.7,249.1 653.8,244.0 655.0,240.2 657.5,231.6 659.9,216.9 662.4,194.7 663.1,180.0 663.8,173.2" fill="none" stroke="#111" stroke-width="0.98" stroke-linejoin="round"/>
<text x="496.6" y="171.9" font-size="5" text-anchor="end" font-weight="normal" font-style="normal" fill="#000">1</text>
<text x="496.6" y="273.5" font-size="5" text-anchor="end" font-weight="normal" font-style="normal" fill="#000">0</text>
<text x="486.8" y="267.6" font-size="6.2" fill="#000"><tspan font-style="italic">J</tspan><tspan font-size="4" dy="0.9" font-style="italic">min</tspan></text>
<text x="498.3" y="277.6" font-size="5" text-anchor="middle" font-weight="normal" font-style="normal" fill="#000">0</text>
<text x="536.6" y="277.6" font-size="5" text-anchor="middle" font-weight="normal" font-style="normal" fill="#000">0.05</text>
<text x="574.9" y="277.6" font-size="5" text-anchor="middle" font-weight="normal" font-style="normal" fill="#000">0.1</text>
<text x="613.6" y="277.6" font-size="5" text-anchor="middle" font-weight="normal" font-style="normal" fill="#000">0.15</text>
<text x="652.3" y="277.6" font-size="5" text-anchor="middle" font-weight="normal" font-style="normal" fill="#000">0.2</text>
<text x="660.4" y="277.8" font-size="5.6" fill="#000"><tspan font-style="italic">r</tspan><tspan font-size="3.8" dy="0.9" font-style="italic">max</tspan></text>
<text x="583" y="283.8" font-size="5.7" text-anchor="middle" font-weight="normal" font-style="normal" fill="#000">Radius (mm)</text>
<text x="485.8" y="211" font-size="5.2" fill="#000" text-anchor="middle" transform="rotate(-90 485.8 211)"><tspan font-style="italic">J</tspan>(<tspan font-style="italic">r</tspan>)</text>
</svg>
</body></html>
